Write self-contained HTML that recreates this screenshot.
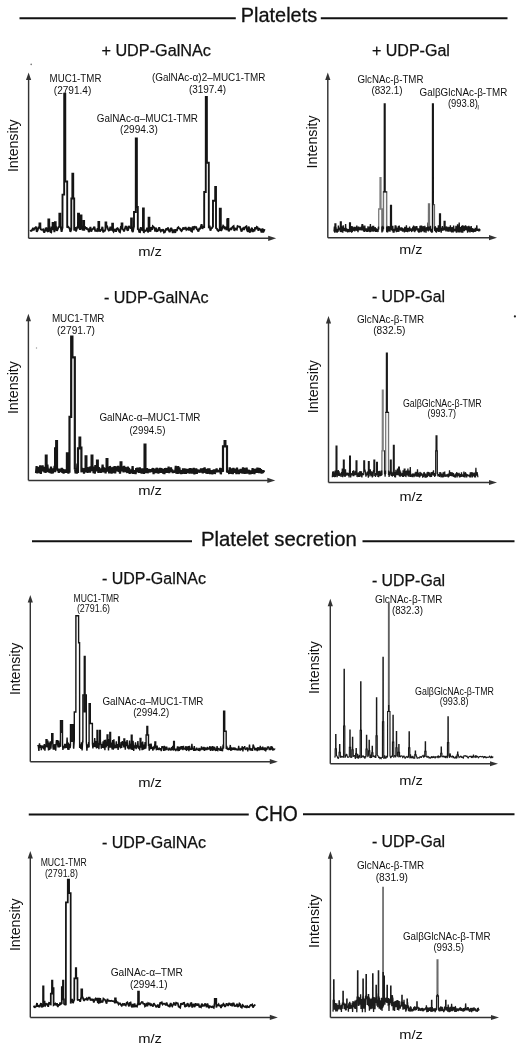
<!DOCTYPE html>
<html><head><meta charset="utf-8"><title>Figure</title>
<style>
html,body{margin:0;padding:0;background:#fff;}
body{width:520px;height:1046px;overflow:hidden;}
svg{display:block;filter:grayscale(100%);}
text{font-family:"Liberation Sans", sans-serif;}
</style></head><body>
<svg width="520" height="1046" viewBox="0 0 520 1046">
<rect width="520" height="1046" fill="#fff"/>
<text x="240.80" y="22.10" font-size="20.3" textLength="76.40" lengthAdjust="spacingAndGlyphs" fill="#111" stroke="#111" stroke-width="0.3">Platelets</text>
<line x1="19.50" y1="18.20" x2="235.80" y2="18.20" stroke="#111" stroke-width="2.1"/>
<line x1="320.80" y1="18.30" x2="507.50" y2="18.30" stroke="#111" stroke-width="2.0"/>
<text x="200.90" y="545.50" font-size="20.3" textLength="155.90" lengthAdjust="spacingAndGlyphs" fill="#111" stroke="#111" stroke-width="0.3">Platelet secretion</text>
<line x1="32.00" y1="541.20" x2="192.00" y2="541.20" stroke="#111" stroke-width="2.0"/>
<line x1="362.50" y1="541.20" x2="514.50" y2="541.20" stroke="#111" stroke-width="2.0"/>
<text x="255.00" y="820.70" font-size="21.3" textLength="42.80" lengthAdjust="spacingAndGlyphs" fill="#111" stroke="#111" stroke-width="0.3">CHO</text>
<line x1="28.75" y1="814.40" x2="248.75" y2="814.40" stroke="#111" stroke-width="2.0"/>
<line x1="303.00" y1="814.20" x2="514.50" y2="814.20" stroke="#111" stroke-width="2.0"/>
<text x="101.40" y="56.20" font-size="16.3" textLength="109.60" lengthAdjust="spacingAndGlyphs" fill="#111" stroke="#111" stroke-width="0.25">+ UDP-GalNAc</text>
<text x="371.90" y="55.80" font-size="16.3" textLength="78.00" lengthAdjust="spacingAndGlyphs" fill="#111" stroke="#111" stroke-width="0.25">+ UDP-Gal</text>
<text x="103.90" y="303.00" font-size="16.3" textLength="104.60" lengthAdjust="spacingAndGlyphs" fill="#111" stroke="#111" stroke-width="0.25">- UDP-GalNAc</text>
<text x="371.90" y="302.10" font-size="16.3" textLength="73.20" lengthAdjust="spacingAndGlyphs" fill="#111" stroke="#111" stroke-width="0.25">- UDP-Gal</text>
<text x="101.90" y="584.00" font-size="16.3" textLength="104.10" lengthAdjust="spacingAndGlyphs" fill="#111" stroke="#111" stroke-width="0.25">- UDP-GalNAc</text>
<text x="371.90" y="585.80" font-size="16.3" textLength="73.20" lengthAdjust="spacingAndGlyphs" fill="#111" stroke="#111" stroke-width="0.25">- UDP-Gal</text>
<text x="101.90" y="847.50" font-size="16.3" textLength="104.10" lengthAdjust="spacingAndGlyphs" fill="#111" stroke="#111" stroke-width="0.25">- UDP-GalNAc</text>
<text x="371.90" y="846.50" font-size="16.3" textLength="73.20" lengthAdjust="spacingAndGlyphs" fill="#111" stroke="#111" stroke-width="0.25">- UDP-Gal</text>
<text transform="translate(17.70,172.10) rotate(-90)" x="0" y="0" font-size="14.1" textLength="52.70" lengthAdjust="spacingAndGlyphs" fill="#111">Intensity</text>
<text transform="translate(317.20,168.40) rotate(-90)" x="0" y="0" font-size="14.1" textLength="53.10" lengthAdjust="spacingAndGlyphs" fill="#111">Intensity</text>
<text transform="translate(18.00,414.10) rotate(-90)" x="0" y="0" font-size="14.1" textLength="53.00" lengthAdjust="spacingAndGlyphs" fill="#111">Intensity</text>
<text transform="translate(318.00,413.20) rotate(-90)" x="0" y="0" font-size="14.1" textLength="53.20" lengthAdjust="spacingAndGlyphs" fill="#111">Intensity</text>
<text transform="translate(20.00,695.10) rotate(-90)" x="0" y="0" font-size="14.1" textLength="52.50" lengthAdjust="spacingAndGlyphs" fill="#111">Intensity</text>
<text transform="translate(318.70,694.10) rotate(-90)" x="0" y="0" font-size="14.1" textLength="53.00" lengthAdjust="spacingAndGlyphs" fill="#111">Intensity</text>
<text transform="translate(20.00,951.10) rotate(-90)" x="0" y="0" font-size="14.1" textLength="52.70" lengthAdjust="spacingAndGlyphs" fill="#111">Intensity</text>
<text transform="translate(318.70,948.00) rotate(-90)" x="0" y="0" font-size="14.1" textLength="53.40" lengthAdjust="spacingAndGlyphs" fill="#111">Intensity</text>
<text x="138.20" y="256.30" font-size="13.7" textLength="23.80" lengthAdjust="spacingAndGlyphs" fill="#111">m/z</text>
<text x="399.20" y="253.80" font-size="13.7" textLength="23.20" lengthAdjust="spacingAndGlyphs" fill="#111">m/z</text>
<text x="138.20" y="494.60" font-size="13.7" textLength="23.80" lengthAdjust="spacingAndGlyphs" fill="#111">m/z</text>
<text x="399.40" y="501.20" font-size="13.7" textLength="23.40" lengthAdjust="spacingAndGlyphs" fill="#111">m/z</text>
<text x="138.20" y="787.00" font-size="13.7" textLength="23.80" lengthAdjust="spacingAndGlyphs" fill="#111">m/z</text>
<text x="399.20" y="784.50" font-size="13.7" textLength="23.60" lengthAdjust="spacingAndGlyphs" fill="#111">m/z</text>
<text x="138.20" y="1042.50" font-size="13.7" textLength="23.80" lengthAdjust="spacingAndGlyphs" fill="#111">m/z</text>
<text x="399.20" y="1038.60" font-size="13.7" textLength="23.60" lengthAdjust="spacingAndGlyphs" fill="#111">m/z</text>
<text x="49.60" y="81.90" font-size="10.8" textLength="51.80" lengthAdjust="spacingAndGlyphs" fill="#111">MUC1-TMR</text>
<text x="53.80" y="93.80" font-size="10.8" textLength="37.50" lengthAdjust="spacingAndGlyphs" fill="#111">(2791.4)</text>
<text x="96.80" y="121.80" font-size="10.8" textLength="101.20" lengthAdjust="spacingAndGlyphs" fill="#111">GalNAc-α–MUC1-TMR</text>
<text x="120.10" y="133.20" font-size="10.8" textLength="37.70" lengthAdjust="spacingAndGlyphs" fill="#111">(2994.3)</text>
<text x="151.90" y="81.20" font-size="10.8" textLength="113.60" lengthAdjust="spacingAndGlyphs" fill="#111">(GalNAc-α)2–MUC1-TMR</text>
<text x="188.90" y="93.30" font-size="10.8" textLength="37.10" lengthAdjust="spacingAndGlyphs" fill="#111">(3197.4)</text>
<text x="357.40" y="82.50" font-size="10.8" textLength="66.10" lengthAdjust="spacingAndGlyphs" fill="#111">GlcNAc-β-TMR</text>
<text x="371.40" y="93.80" font-size="10.8" textLength="31.10" lengthAdjust="spacingAndGlyphs" fill="#111">(832.1)</text>
<text x="419.60" y="95.90" font-size="10.8" textLength="87.80" lengthAdjust="spacingAndGlyphs" fill="#111">GalβGlcNAc-β-TMR</text>
<text x="447.90" y="106.90" font-size="10.8" textLength="29.90" lengthAdjust="spacingAndGlyphs" fill="#111">(993.8)</text>
<text x="51.90" y="322.00" font-size="10.8" textLength="52.60" lengthAdjust="spacingAndGlyphs" fill="#111">MUC1-TMR</text>
<text x="56.90" y="334.30" font-size="10.8" textLength="38.10" lengthAdjust="spacingAndGlyphs" fill="#111">(2791.7)</text>
<text x="99.40" y="421.00" font-size="10.8" textLength="101.10" lengthAdjust="spacingAndGlyphs" fill="#111">GalNAc-α–MUC1-TMR</text>
<text x="129.40" y="434.30" font-size="10.8" textLength="36.10" lengthAdjust="spacingAndGlyphs" fill="#111">(2994.5)</text>
<text x="356.90" y="322.50" font-size="10.8" textLength="67.35" lengthAdjust="spacingAndGlyphs" fill="#111">GlcNAc-β-TMR</text>
<text x="373.15" y="334.30" font-size="10.8" textLength="32.35" lengthAdjust="spacingAndGlyphs" fill="#111">(832.5)</text>
<text x="402.90" y="406.60" font-size="10.8" textLength="78.80" lengthAdjust="spacingAndGlyphs" fill="#111">GalβGlcNAc-β-TMR</text>
<text x="427.40" y="417.00" font-size="10.8" textLength="28.50" lengthAdjust="spacingAndGlyphs" fill="#111">(993.7)</text>
<text x="73.60" y="601.50" font-size="10.8" textLength="45.70" lengthAdjust="spacingAndGlyphs" fill="#111">MUC1-TMR</text>
<text x="76.90" y="612.30" font-size="10.8" textLength="33.20" lengthAdjust="spacingAndGlyphs" fill="#111">(2791.6)</text>
<text x="102.40" y="704.50" font-size="10.8" textLength="101.10" lengthAdjust="spacingAndGlyphs" fill="#111">GalNAc-α–MUC1-TMR</text>
<text x="133.15" y="715.80" font-size="10.8" textLength="36.10" lengthAdjust="spacingAndGlyphs" fill="#111">(2994.2)</text>
<text x="374.90" y="602.50" font-size="10.8" textLength="67.60" lengthAdjust="spacingAndGlyphs" fill="#111">GlcNAc-β-TMR</text>
<text x="391.90" y="614.30" font-size="10.8" textLength="31.10" lengthAdjust="spacingAndGlyphs" fill="#111">(832.3)</text>
<text x="415.10" y="695.00" font-size="10.8" textLength="78.90" lengthAdjust="spacingAndGlyphs" fill="#111">GalβGlcNAc-β-TMR</text>
<text x="439.80" y="705.30" font-size="10.8" textLength="28.70" lengthAdjust="spacingAndGlyphs" fill="#111">(993.8)</text>
<text x="40.65" y="866.25" font-size="10.8" textLength="46.10" lengthAdjust="spacingAndGlyphs" fill="#111">MUC1-TMR</text>
<text x="44.90" y="877.00" font-size="10.8" textLength="33.10" lengthAdjust="spacingAndGlyphs" fill="#111">(2791.8)</text>
<text x="110.65" y="976.00" font-size="10.8" textLength="72.35" lengthAdjust="spacingAndGlyphs" fill="#111">GalNAc-α–TMR</text>
<text x="129.90" y="988.00" font-size="10.8" textLength="37.60" lengthAdjust="spacingAndGlyphs" fill="#111">(2994.1)</text>
<text x="356.90" y="868.75" font-size="10.8" textLength="67.35" lengthAdjust="spacingAndGlyphs" fill="#111">GlcNAc-β-TMR</text>
<text x="375.65" y="880.80" font-size="10.8" textLength="32.35" lengthAdjust="spacingAndGlyphs" fill="#111">(831.9)</text>
<text x="402.90" y="940.40" font-size="10.8" textLength="87.60" lengthAdjust="spacingAndGlyphs" fill="#111">GalβGlcNAc-β-TMR</text>
<text x="433.40" y="951.30" font-size="10.8" textLength="30.60" lengthAdjust="spacingAndGlyphs" fill="#111">(993.5)</text>
<line x1="478.40" y1="105.00" x2="478.20" y2="109.60" stroke="#555" stroke-width="0.8"/>
<circle cx="514.9" cy="316.4" r="1.1" fill="#222"/>
<circle cx="31.2" cy="64.4" r="0.8" fill="#777"/>
<circle cx="36.5" cy="348" r="0.7" fill="#999"/>
<line x1="28.60" y1="238.30" x2="28.60" y2="78.50" stroke="#333" stroke-width="1.45"/>
<path d="M26.00,80.00 L28.60,72.50 L31.20,80.00 Z" fill="#333"/>
<line x1="28.60" y1="238.30" x2="270.20" y2="238.30" stroke="#333" stroke-width="1.45"/>
<path d="M268.20,235.70 L276.20,238.30 L268.20,240.90 Z" fill="#333"/>
<line x1="327.80" y1="237.70" x2="327.80" y2="78.50" stroke="#333" stroke-width="1.45"/>
<path d="M325.20,80.00 L327.80,72.50 L330.40,80.00 Z" fill="#333"/>
<line x1="327.80" y1="237.70" x2="491.00" y2="237.70" stroke="#333" stroke-width="1.45"/>
<path d="M489.00,235.10 L497.00,237.70 L489.00,240.30 Z" fill="#333"/>
<line x1="28.40" y1="480.40" x2="28.40" y2="319.75" stroke="#333" stroke-width="1.45"/>
<path d="M25.80,321.25 L28.40,313.75 L31.00,321.25 Z" fill="#333"/>
<line x1="28.40" y1="480.40" x2="269.30" y2="480.40" stroke="#333" stroke-width="1.45"/>
<path d="M267.30,477.80 L275.30,480.40 L267.30,483.00 Z" fill="#333"/>
<line x1="328.50" y1="482.50" x2="328.50" y2="322.00" stroke="#333" stroke-width="1.45"/>
<path d="M325.90,323.50 L328.50,316.00 L331.10,323.50 Z" fill="#333"/>
<line x1="328.50" y1="482.50" x2="491.00" y2="482.50" stroke="#333" stroke-width="1.45"/>
<path d="M489.00,479.90 L497.00,482.50 L489.00,485.10 Z" fill="#333"/>
<line x1="30.30" y1="761.70" x2="30.30" y2="601.00" stroke="#333" stroke-width="1.45"/>
<path d="M27.70,602.50 L30.30,595.00 L32.90,602.50 Z" fill="#333"/>
<line x1="30.30" y1="761.70" x2="271.80" y2="761.70" stroke="#333" stroke-width="1.45"/>
<path d="M269.80,759.10 L277.80,761.70 L269.80,764.30 Z" fill="#333"/>
<line x1="330.30" y1="763.75" x2="330.30" y2="604.75" stroke="#333" stroke-width="1.45"/>
<path d="M327.70,606.25 L330.30,598.75 L332.90,606.25 Z" fill="#333"/>
<line x1="330.30" y1="763.75" x2="492.00" y2="763.75" stroke="#333" stroke-width="1.45"/>
<path d="M490.00,761.15 L498.00,763.75 L490.00,766.35 Z" fill="#333"/>
<line x1="30.30" y1="1017.40" x2="30.30" y2="857.00" stroke="#333" stroke-width="1.45"/>
<path d="M27.70,858.50 L30.30,851.00 L32.90,858.50 Z" fill="#333"/>
<line x1="30.30" y1="1017.40" x2="271.80" y2="1017.40" stroke="#333" stroke-width="1.45"/>
<path d="M269.80,1014.80 L277.80,1017.40 L269.80,1020.00 Z" fill="#333"/>
<line x1="330.40" y1="1017.50" x2="330.40" y2="857.25" stroke="#333" stroke-width="1.45"/>
<path d="M327.80,858.75 L330.40,851.25 L333.00,858.75 Z" fill="#333"/>
<line x1="330.40" y1="1017.50" x2="493.00" y2="1017.50" stroke="#333" stroke-width="1.45"/>
<path d="M491.00,1014.90 L499.00,1017.50 L491.00,1020.10 Z" fill="#333"/>
<polyline points="30.40,229.86 30.60,230.22 30.80,230.59 31.00,230.95 31.20,231.32 31.40,230.98 31.60,230.65 31.80,230.31 32.00,229.98 32.20,229.69 32.40,229.40 32.60,229.11 32.80,228.83 33.00,229.21 33.20,229.60 33.40,229.99 33.60,230.38 33.80,229.87 34.00,229.35 34.20,228.84 34.40,228.33 34.60,228.30 34.80,228.28 35.00,228.25 35.20,228.22 35.40,227.84 35.60,227.46 35.80,227.08 36.00,226.70 36.20,227.98 36.40,229.26 36.60,230.53 36.80,231.81 37.00,231.43 37.20,231.06 37.40,230.68 37.60,230.30 37.80,229.60 38.00,228.90 38.20,228.20 38.40,227.51 38.60,227.53 38.80,227.56 39.00,227.59 39.20,227.62 39.40,227.35 39.43,227.32 39.47,223.50 39.60,223.50 39.80,223.50 40.00,223.50 40.20,223.50 40.33,223.50 40.37,227.87 40.40,227.98 40.60,228.68 40.80,229.38 41.00,229.48 41.20,229.57 41.40,229.67 41.60,229.76 41.80,229.73 42.00,229.70 42.20,229.67 42.40,229.64 42.60,229.57 42.80,229.51 43.00,229.44 43.20,229.37 43.40,230.15 43.60,230.92 43.80,231.70 44.00,232.47 44.20,232.25 44.40,232.03 44.60,231.81 44.80,231.59 45.00,230.80 45.20,230.01 45.40,229.22 45.60,228.43 45.80,228.39 46.00,228.34 46.20,228.30 46.40,228.25 46.60,228.96 46.80,229.67 47.00,230.38 47.20,231.09 47.40,231.20 47.60,231.32 47.80,231.43 48.00,231.54 48.20,231.70 48.33,231.80 48.37,219.50 48.40,219.50 48.60,219.50 48.80,219.50 49.00,219.50 49.20,219.50 49.23,219.50 49.27,228.79 49.40,227.85 49.60,226.40 49.80,227.76 50.00,229.12 50.20,230.47 50.40,231.83 50.60,231.93 50.80,232.03 51.00,232.12 51.20,232.22 51.40,230.85 51.60,229.48 51.80,228.11 52.00,226.75 52.20,227.80 52.40,228.85 52.58,229.79 52.60,222.90 52.62,222.90 52.80,222.90 53.00,222.90 53.20,222.90 53.38,222.90 53.40,222.90 53.42,227.71 53.60,226.77 53.80,228.08 54.00,229.38 54.20,230.69 54.40,232.00 54.60,230.72 54.80,229.45 54.88,228.94 54.92,222.30 55.00,222.30 55.20,222.30 55.40,222.30 55.60,222.30 55.68,222.30 55.72,226.81 55.80,226.79 56.00,226.76 56.20,227.80 56.40,228.83 56.60,229.87 56.80,230.91 57.00,230.54 57.20,230.18 57.40,229.81 57.60,229.45 57.80,228.89 58.00,228.33 58.20,227.77 58.40,227.21 58.60,227.11 58.80,227.01 59.00,226.91 59.20,226.82 59.33,226.80 59.37,213.80 59.40,213.80 59.60,213.80 59.80,213.80 60.00,213.80 60.20,213.80 60.23,213.80 60.27,226.90 60.40,226.99 60.60,227.14 60.80,227.28 61.00,228.42 61.20,229.56 61.40,230.70 61.60,231.84 61.80,230.84 62.00,229.84 62.20,228.84 62.40,227.84 62.48,227.79 62.52,194.60 62.60,194.60 62.80,194.60 63.00,194.60 63.20,194.60 63.40,194.60 63.60,194.60 63.80,194.60 64.00,194.60 64.18,194.60 64.20,93.80 64.22,93.80 64.40,93.80 64.60,93.80 64.80,93.80 65.00,93.80 65.20,93.80 65.28,93.80 65.32,181.50 65.40,181.50 65.60,181.50 65.80,181.50 66.00,181.50 66.20,181.50 66.40,181.50 66.60,181.50 66.80,181.50 67.00,181.50 67.18,181.50 67.20,181.50 67.22,227.80 67.40,227.52 67.60,227.22 67.80,226.91 68.00,226.60 68.20,226.83 68.40,227.06 68.60,227.29 68.80,227.52 69.00,227.72 69.20,227.91 69.40,228.11 69.60,228.30 69.80,229.18 70.00,230.07 70.20,230.95 70.40,231.83 70.60,231.26 70.80,230.68 71.00,230.11 71.20,229.53 71.28,229.30 71.32,198.50 71.40,198.50 71.60,198.50 71.80,198.50 72.00,198.50 72.20,198.50 72.33,198.50 72.37,173.80 72.40,173.80 72.60,173.80 72.80,173.80 73.00,173.80 73.20,173.80 73.23,173.80 73.27,198.50 73.40,198.50 73.60,198.50 73.80,198.50 74.00,198.50 74.18,198.50 74.20,198.50 74.22,229.88 74.40,230.54 74.60,229.73 74.80,228.92 75.00,228.11 75.20,227.29 75.40,228.32 75.60,229.35 75.80,230.38 76.00,231.41 76.20,230.72 76.40,230.03 76.60,229.34 76.80,228.65 77.00,228.08 77.20,227.51 77.40,226.94 77.60,226.36 77.80,226.67 77.98,226.94 78.00,213.80 78.02,213.80 78.20,213.80 78.40,213.80 78.60,213.80 78.80,213.80 78.98,213.80 79.00,213.80 79.02,227.66 79.20,227.69 79.40,228.20 79.60,228.71 79.80,229.22 80.00,229.73 80.20,229.10 80.40,228.47 80.48,228.22 80.52,215.40 80.60,215.40 80.80,215.40 81.00,215.40 81.20,215.40 81.40,215.40 81.48,215.40 81.52,226.64 81.60,226.57 81.80,227.31 82.00,228.05 82.20,228.79 82.40,229.52 82.60,229.61 82.80,229.69 83.00,229.78 83.20,229.86 83.40,230.32 83.43,230.38 83.47,221.00 83.60,221.00 83.80,221.00 84.00,221.00 84.13,221.00 84.17,230.54 84.20,230.33 84.40,228.98 84.60,227.64 84.80,226.29 85.00,226.93 85.20,227.58 85.40,228.22 85.60,228.87 85.80,228.46 86.00,228.06 86.20,227.66 86.40,227.26 86.60,227.85 86.80,228.45 87.00,229.04 87.20,229.64 87.40,229.32 87.60,229.01 87.80,228.70 88.00,228.38 88.20,229.31 88.40,230.24 88.60,231.17 88.80,232.10 89.00,231.67 89.20,231.23 89.40,230.80 89.60,230.37 89.80,229.53 90.00,228.68 90.20,227.84 90.40,227.00 90.60,228.17 90.80,229.35 91.00,230.52 91.20,231.70 91.40,231.14 91.60,230.58 91.80,230.03 92.00,229.47 92.20,229.39 92.40,229.31 92.60,229.22 92.80,229.14 93.00,228.90 93.20,228.65 93.40,228.41 93.60,228.17 93.80,227.80 94.00,227.44 94.20,227.07 94.40,226.71 94.60,227.70 94.80,228.70 95.00,229.69 95.20,230.69 95.40,230.69 95.60,230.69 95.80,230.69 96.00,230.69 96.20,230.78 96.40,230.86 96.60,230.95 96.80,231.04 97.00,230.37 97.20,229.71 97.40,229.05 97.60,228.39 97.80,229.22 98.00,230.04 98.20,230.87 98.38,231.61 98.40,222.00 98.42,222.00 98.60,222.00 98.80,222.00 99.00,222.00 99.18,222.00 99.20,222.00 99.22,228.86 99.40,229.47 99.60,230.14 99.80,230.81 100.00,231.48 100.20,231.12 100.40,230.77 100.60,230.41 100.80,230.05 101.00,229.99 101.20,229.93 101.40,229.87 101.60,229.80 101.80,229.05 102.00,228.30 102.20,227.54 102.40,226.79 102.60,228.16 102.80,229.53 103.00,230.90 103.20,232.27 103.40,231.88 103.60,231.48 103.80,231.08 104.00,230.69 104.20,230.70 104.40,230.71 104.60,230.72 104.80,230.73 105.00,230.29 105.20,229.85 105.40,229.41 105.48,229.23 105.52,222.50 105.60,222.50 105.80,222.50 106.00,222.50 106.20,222.50 106.28,222.50 106.32,227.04 106.40,226.83 106.60,226.75 106.80,226.67 107.00,226.59 107.20,226.51 107.40,227.19 107.60,227.86 107.80,228.54 108.00,229.22 108.20,229.54 108.40,229.87 108.60,230.20 108.80,230.53 109.00,230.40 109.20,230.28 109.40,230.15 109.60,230.03 109.80,229.19 110.00,228.35 110.20,227.51 110.40,226.67 110.60,227.61 110.80,228.54 111.00,229.48 111.20,230.41 111.40,229.65 111.60,228.89 111.80,228.13 112.00,227.37 112.18,228.03 112.20,223.80 112.22,223.80 112.40,223.80 112.60,223.80 112.80,223.80 112.98,223.80 113.00,223.80 113.02,230.69 113.20,231.01 113.40,231.36 113.60,231.70 113.80,231.37 114.00,231.03 114.20,230.69 114.40,230.35 114.60,230.00 114.80,229.65 115.00,229.30 115.20,228.95 115.40,229.67 115.60,230.40 115.80,231.12 116.00,231.85 116.20,231.06 116.40,230.26 116.60,229.47 116.80,228.67 117.00,228.57 117.20,228.47 117.40,228.37 117.60,228.27 117.80,228.54 118.00,228.81 118.20,229.08 118.40,229.35 118.60,229.88 118.80,230.41 119.00,230.94 119.20,231.47 119.40,231.62 119.60,231.77 119.80,231.93 120.00,232.08 120.20,230.91 120.40,229.74 120.60,228.57 120.80,227.40 121.00,227.56 121.20,227.72 121.40,227.88 121.58,228.02 121.60,223.50 121.62,223.50 121.80,223.50 122.00,223.50 122.20,223.50 122.38,223.50 122.40,223.50 122.42,228.89 122.60,228.99 122.80,229.11 123.00,229.24 123.20,229.36 123.40,229.87 123.60,230.39 123.80,230.91 124.00,231.43 124.20,230.85 124.40,230.27 124.60,229.69 124.80,229.11 125.00,228.48 125.20,227.85 125.40,227.22 125.60,226.59 125.80,226.61 126.00,226.62 126.20,226.64 126.40,226.65 126.60,227.45 126.80,228.24 127.00,229.04 127.20,229.83 127.40,230.03 127.60,230.22 127.80,230.42 128.00,230.62 128.20,229.42 128.40,228.22 128.60,227.02 128.80,225.83 129.00,226.33 129.20,226.83 129.40,227.34 129.60,227.84 129.80,227.56 130.00,227.27 130.20,226.99 130.40,226.70 130.60,227.30 130.80,227.90 131.00,228.50 131.08,228.74 131.12,218.50 131.20,218.50 131.40,218.50 131.60,218.50 131.80,218.50 131.88,218.50 131.92,230.23 132.00,230.36 132.20,230.81 132.40,231.27 132.60,231.73 132.80,232.18 133.00,231.04 133.20,229.91 133.40,228.77 133.60,227.63 133.80,227.13 133.98,226.68 134.00,212.00 134.02,212.00 134.20,212.00 134.40,212.00 134.60,212.00 134.80,212.00 135.00,212.00 135.20,212.00 135.40,212.00 135.60,212.00 135.78,212.00 135.80,138.50 135.82,138.50 136.00,138.50 136.20,138.50 136.40,138.50 136.60,138.50 136.80,138.50 136.88,138.50 136.92,207.00 137.00,207.00 137.20,207.00 137.40,207.00 137.60,207.00 137.78,207.00 137.80,207.00 137.82,229.77 138.00,229.48 138.20,229.15 138.40,228.81 138.60,229.58 138.80,230.35 139.00,231.12 139.20,231.89 139.40,231.93 139.60,231.97 139.80,232.02 140.00,232.06 140.20,230.85 140.40,229.65 140.60,228.45 140.80,227.24 141.00,227.99 141.20,228.73 141.40,229.48 141.60,230.22 141.80,229.85 142.00,229.48 142.20,229.10 142.40,228.73 142.60,229.48 142.80,230.24 142.98,230.92 143.00,208.50 143.02,208.50 143.20,208.50 143.40,208.50 143.60,208.50 143.78,208.50 143.80,208.50 143.82,232.05 144.00,232.14 144.20,231.70 144.40,231.26 144.60,230.83 144.80,230.39 145.00,230.49 145.20,230.60 145.40,230.71 145.60,230.81 145.80,230.69 146.00,230.57 146.20,230.45 146.40,230.34 146.60,229.69 146.80,229.05 147.00,228.41 147.20,227.77 147.40,228.92 147.60,230.07 147.80,231.22 148.00,232.37 148.20,231.71 148.40,231.05 148.58,230.45 148.60,217.70 148.62,217.70 148.80,217.70 149.00,217.70 149.20,217.70 149.38,217.70 149.40,217.70 149.42,228.71 149.60,228.42 149.80,229.22 150.00,230.03 150.20,230.84 150.40,231.65 150.60,230.50 150.80,229.35 151.00,228.20 151.20,227.04 151.40,227.75 151.60,228.46 151.80,229.17 152.00,229.88 152.20,228.99 152.40,228.09 152.60,227.20 152.80,226.30 153.00,226.48 153.20,226.66 153.40,226.85 153.60,227.03 153.80,227.20 154.00,227.37 154.20,227.54 154.40,227.71 154.60,228.64 154.80,229.57 155.00,230.50 155.20,231.44 155.40,230.48 155.60,229.53 155.80,228.58 156.00,227.63 156.20,228.50 156.40,229.37 156.60,230.24 156.80,231.11 157.00,231.07 157.20,231.03 157.40,230.98 157.60,230.94 157.80,230.65 158.00,230.37 158.20,230.08 158.40,229.79 158.60,229.19 158.80,228.59 159.00,227.99 159.20,227.38 159.40,228.05 159.60,228.72 159.80,229.39 160.00,230.06 160.20,230.37 160.40,230.68 160.60,230.99 160.80,231.31 161.00,231.00 161.20,230.70 161.40,230.40 161.60,230.10 161.80,230.16 162.00,230.23 162.20,230.29 162.40,230.36 162.60,230.10 162.80,229.84 163.00,229.58 163.20,229.32 163.40,230.10 163.60,230.89 163.80,231.68 164.00,232.46 164.20,232.40 164.40,232.33 164.60,232.26 164.80,232.20 165.00,231.71 165.20,231.23 165.40,230.75 165.60,230.27 165.80,229.79 166.00,229.32 166.20,228.84 166.40,228.36 166.60,228.82 166.80,229.28 167.00,229.75 167.20,230.21 167.40,229.50 167.60,228.80 167.80,228.09 168.00,227.39 168.20,228.13 168.40,228.87 168.60,229.61 168.80,230.35 169.00,230.78 169.20,231.22 169.40,231.65 169.60,232.09 169.80,231.63 170.00,231.18 170.20,230.72 170.40,230.26 170.60,229.63 170.80,229.00 171.00,228.37 171.20,227.74 171.40,228.27 171.60,228.80 171.80,229.33 172.00,229.86 172.20,230.64 172.40,231.41 172.60,232.18 172.80,232.95 173.00,232.29 173.20,231.62 173.40,230.95 173.60,230.28 173.80,230.23 174.00,230.18 174.20,230.13 174.40,230.08 174.60,230.79 174.80,231.49 175.00,232.20 175.20,232.88 175.40,231.97 175.60,231.07 175.80,230.17 176.00,229.27 176.20,229.69 176.40,230.12 176.60,230.54 176.80,230.97 177.00,230.21 177.20,229.45 177.40,228.69 177.60,227.93 177.80,227.74 178.00,227.56 178.20,227.37 178.40,227.18 178.60,227.46 178.80,227.74 179.00,228.02 179.20,228.30 179.40,228.42 179.60,228.53 179.80,228.65 180.00,228.77 180.20,229.19 180.40,229.61 180.60,230.03 180.80,230.45 181.00,230.59 181.20,230.73 181.40,230.87 181.60,231.01 181.80,230.65 182.00,230.29 182.20,229.93 182.40,229.58 182.60,229.08 182.80,228.58 183.00,228.09 183.20,227.59 183.40,227.92 183.60,228.26 183.80,228.59 184.00,228.92 184.20,228.86 184.40,228.80 184.60,228.74 184.80,228.67 185.00,228.27 185.20,227.86 185.40,227.45 185.60,227.05 185.80,227.73 186.00,228.41 186.20,229.09 186.40,229.77 186.60,229.59 186.80,229.41 187.00,229.23 187.20,229.05 187.40,229.15 187.60,229.24 187.80,229.34 188.00,229.44 188.20,228.84 188.40,228.25 188.60,227.65 188.80,227.06 189.00,227.90 189.20,228.74 189.40,229.58 189.60,230.42 189.80,229.65 190.00,228.88 190.20,228.14 190.40,227.41 190.60,228.32 190.80,229.24 191.00,230.16 191.20,231.07 191.40,231.19 191.60,231.31 191.80,231.43 192.00,231.55 192.20,230.26 192.40,228.97 192.60,227.68 192.80,226.39 193.00,227.28 193.20,228.18 193.40,229.07 193.60,229.97 193.80,229.03 194.00,228.09 194.20,227.15 194.40,226.21 194.60,226.71 194.80,227.20 195.00,227.69 195.20,228.19 195.40,227.75 195.60,227.31 195.80,226.87 196.00,226.44 196.20,227.08 196.40,227.72 196.60,228.37 196.80,229.01 197.00,229.21 197.20,229.42 197.40,229.62 197.60,229.82 197.80,230.26 198.00,230.69 198.20,231.13 198.40,231.56 198.60,230.87 198.80,230.19 199.00,229.50 199.20,228.81 199.40,228.81 199.60,228.81 199.80,228.82 200.00,228.82 200.20,228.34 200.40,227.87 200.60,227.39 200.80,226.92 201.00,226.24 201.20,225.56 201.40,224.88 201.60,224.20 201.80,225.37 202.00,226.53 202.20,227.69 202.40,228.85 202.60,228.29 202.80,227.74 203.00,227.18 203.20,226.63 203.40,226.71 203.60,226.79 203.80,226.87 204.00,226.96 204.18,228.02 204.20,192.00 204.22,192.00 204.40,192.00 204.60,192.00 204.80,192.00 205.00,192.00 205.20,192.00 205.40,192.00 205.60,192.00 205.78,192.00 205.80,97.00 205.82,97.00 206.00,97.00 206.20,97.00 206.40,97.00 206.60,97.00 206.80,97.00 206.88,97.00 206.92,162.70 207.00,162.70 207.20,162.70 207.40,162.70 207.60,162.70 207.80,162.70 208.00,162.70 208.20,162.70 208.40,162.70 208.60,162.70 208.78,162.70 208.80,162.70 208.82,228.17 209.00,227.61 209.20,226.98 209.40,226.35 209.60,225.72 209.80,226.96 210.00,228.21 210.20,229.45 210.40,230.69 210.60,230.10 210.80,229.51 211.00,228.93 211.20,228.34 211.40,228.26 211.60,228.18 211.80,228.11 212.00,228.03 212.20,227.67 212.40,227.30 212.60,226.94 212.80,226.58 212.98,226.37 213.00,200.80 213.02,200.80 213.20,200.80 213.40,200.80 213.60,200.80 213.80,200.80 214.00,200.80 214.20,200.80 214.40,200.80 214.60,200.80 214.80,200.80 215.00,200.80 215.18,200.80 215.20,186.90 215.22,186.90 215.40,186.90 215.60,186.90 215.80,186.90 215.98,186.90 216.00,186.90 216.02,227.98 216.20,228.11 216.40,228.25 216.60,228.40 216.80,228.55 217.00,228.99 217.20,229.44 217.40,229.89 217.60,230.34 217.80,230.49 218.00,230.65 218.20,230.80 218.40,230.96 218.60,230.76 218.80,230.55 219.00,230.35 219.20,230.15 219.40,229.59 219.60,229.02 219.78,228.52 219.80,208.60 219.82,208.60 220.00,208.60 220.20,208.60 220.40,208.60 220.60,208.60 220.78,208.60 220.80,208.60 220.82,230.72 221.00,230.56 221.20,230.39 221.40,230.22 221.60,230.04 221.80,229.50 222.00,228.95 222.20,228.41 222.40,227.86 222.60,227.36 222.80,226.85 223.00,226.34 223.20,225.84 223.40,226.08 223.60,226.31 223.80,226.55 224.00,226.79 224.20,227.40 224.40,228.00 224.60,228.61 224.80,229.22 225.00,228.61 225.20,227.99 225.40,227.38 225.60,226.77 225.80,227.41 226.00,228.06 226.20,228.71 226.40,229.36 226.60,229.34 226.80,229.33 227.00,229.32 227.18,229.31 227.20,219.80 227.22,219.80 227.40,219.80 227.58,219.80 227.60,219.00 227.62,219.00 227.80,219.00 227.98,219.00 228.00,219.00 228.02,219.00 228.20,219.00 228.38,219.00 228.40,219.00 228.42,230.00 228.60,230.62 228.80,231.32 229.00,230.87 229.20,230.42 229.40,229.97 229.60,229.51 229.80,229.31 230.00,229.11 230.20,228.93 230.40,228.74 230.60,229.00 230.80,229.27 231.00,229.53 231.20,229.79 231.40,229.30 231.60,228.80 231.80,228.30 232.00,227.81 232.20,227.51 232.40,227.21 232.60,226.91 232.80,226.61 233.00,226.47 233.20,226.34 233.40,226.20 233.60,226.07 233.80,227.29 234.00,228.51 234.20,229.73 234.40,230.95 234.60,230.36 234.80,229.78 235.00,229.19 235.20,228.60 235.40,228.70 235.60,228.80 235.80,228.90 236.00,229.00 236.20,229.12 236.40,229.23 236.60,229.35 236.80,229.46 237.00,228.63 237.20,227.80 237.40,226.96 237.60,226.13 237.80,226.23 238.00,226.34 238.20,226.44 238.40,226.55 238.60,226.59 238.80,226.63 239.00,226.67 239.20,226.71 239.40,226.74 239.60,226.76 239.80,226.78 240.00,226.81 240.20,227.48 240.40,228.15 240.60,228.82 240.80,229.50 241.00,230.01 241.20,230.52 241.40,231.03 241.60,231.54 241.80,230.92 242.00,230.31 242.20,229.69 242.40,229.07 242.60,228.84 242.80,228.61 243.00,228.37 243.20,228.14 243.40,228.59 243.60,229.03 243.80,229.47 244.00,229.92 244.20,229.37 244.40,228.82 244.60,228.28 244.80,227.73 245.00,227.51 245.20,227.30 245.40,227.08 245.60,226.86 245.80,226.74 246.00,226.61 246.20,226.49 246.40,226.36 246.60,227.44 246.80,228.52 247.00,229.60 247.20,230.67 247.40,230.90 247.60,231.12 247.80,231.35 248.00,231.57 248.20,230.31 248.40,229.05 248.60,227.79 248.80,226.52 249.00,227.88 249.20,229.23 249.40,230.58 249.60,231.93 249.80,231.88 250.00,231.83 250.20,231.78 250.40,231.74 250.60,231.10 250.80,230.47 251.00,229.84 251.20,229.21 251.40,228.87 251.60,228.53 251.80,228.18 252.00,227.84 252.20,228.89 252.40,229.94 252.60,230.99 252.80,232.04 253.00,231.35 253.20,230.66 253.40,229.96 253.60,229.27 253.80,229.80 254.00,230.33 254.20,230.87 254.40,231.40 254.60,230.36 254.80,229.31 255.00,228.27 255.20,227.23 255.40,227.75 255.60,228.27 255.80,228.79 256.00,229.31 256.20,228.72 256.40,228.12 256.60,227.52 256.80,226.93 257.00,227.05 257.20,227.17 257.40,227.28 257.60,227.40 257.80,228.23 258.00,229.05 258.20,229.88 258.40,230.70 258.60,230.10 258.80,229.51 259.00,228.91 259.20,228.31 259.40,228.55 259.60,228.80 259.80,229.05 260.00,229.29 260.20,229.47 260.40,229.64 260.60,229.82 260.80,230.00 261.00,230.64 261.20,231.28 261.40,231.93 261.60,232.57 261.80,231.51 262.00,230.45 262.20,229.38 262.40,228.32 262.60,229.31 262.80,230.30 263.00,231.30 263.20,232.29 263.40,231.90 263.60,231.50 263.80,231.11 264.00,230.72 264.20,230.20 264.40,229.68 264.60,229.16" fill="none" stroke="#141414" stroke-width="1.9" stroke-linejoin="miter" stroke-miterlimit="2"/>
<polyline points="334.00,231.54 334.20,229.07 334.40,226.59 334.60,229.68 334.80,232.77 334.98,230.73 335.00,223.80 335.02,223.80 335.20,223.80 335.40,223.80 335.60,223.80 335.78,223.80 335.80,229.00 335.82,228.81 336.00,227.05 336.20,229.73 336.40,232.41 336.60,230.56 336.80,228.70 337.00,230.67 337.20,232.64 337.40,230.86 337.60,229.07 337.80,230.49 338.00,231.90 338.20,228.76 338.40,225.62 338.60,227.99 338.80,230.37 339.00,229.68 339.20,229.00 339.40,229.64 339.60,230.28 339.80,228.95 340.00,227.61 340.20,229.79 340.38,231.75 340.40,231.97 340.42,221.80 340.60,221.80 340.80,221.80 341.00,221.80 341.18,221.80 341.20,221.80 341.22,232.33 341.40,229.32 341.60,225.97 341.80,228.83 342.00,231.69 342.20,229.54 342.40,227.39 342.60,230.05 342.80,232.72 343.00,229.03 343.20,225.34 343.40,228.19 343.60,231.03 343.80,229.45 344.00,227.86 344.20,229.43 344.40,231.01 344.60,229.70 344.80,228.40 345.00,229.92 345.20,231.44 345.40,227.72 345.60,224.00 345.80,227.83 346.00,231.66 346.20,230.05 346.40,228.45 346.60,230.11 346.80,231.77 347.00,230.36 347.20,228.95 347.40,230.64 347.60,232.33 347.80,230.78 348.00,229.23 348.20,230.56 348.40,231.88 348.60,230.52 348.80,229.16 349.00,230.70 349.20,232.24 349.40,229.82 349.58,227.63 349.60,223.00 349.62,223.00 349.80,223.00 350.00,223.00 350.20,223.00 350.38,223.00 350.40,223.00 350.42,228.84 350.60,230.26 350.80,231.83 351.00,229.04 351.20,226.25 351.40,229.52 351.60,232.78 351.80,229.47 352.00,226.16 352.20,229.08 352.40,232.00 352.60,229.39 352.80,226.79 353.00,228.47 353.20,230.14 353.40,229.71 353.60,229.28 353.80,229.99 354.00,230.71 354.20,228.71 354.40,226.71 354.60,229.05 354.80,231.40 355.00,229.08 355.20,226.76 355.40,228.52 355.60,230.28 355.80,229.49 356.00,228.70 356.20,229.59 356.40,230.48 356.60,227.96 356.80,225.43 357.00,228.19 357.20,230.95 357.40,229.72 357.60,228.49 357.80,230.30 358.00,232.12 358.20,229.30 358.40,226.48 358.60,228.46 358.80,230.44 359.00,229.41 359.20,228.37 359.40,229.28 359.60,230.19 359.80,228.48 360.00,226.77 360.20,228.50 360.40,230.24 360.60,228.94 360.80,227.63 361.00,229.02 361.20,230.40 361.40,228.68 361.60,226.95 361.80,229.39 361.88,230.36 361.92,225.00 362.00,225.00 362.20,225.00 362.40,224.18 362.60,225.00 362.68,225.00 362.72,229.15 362.80,230.40 363.00,228.01 363.20,225.63 363.40,228.50 363.60,231.38 363.80,229.59 364.00,227.79 364.20,229.83 364.40,231.86 364.60,228.67 364.80,225.48 365.00,228.42 365.20,231.36 365.40,230.11 365.60,228.86 365.80,229.90 366.00,230.94 366.20,229.64 366.40,228.35 366.60,230.15 366.80,231.94 367.00,230.36 367.20,228.79 367.40,230.38 367.60,231.97 367.80,229.09 368.00,226.20 368.20,228.26 368.40,230.31 368.60,229.78 368.80,229.26 369.00,230.44 369.20,231.62 369.40,229.11 369.60,226.59 369.80,229.38 370.00,232.17 370.20,228.08 370.40,223.99 370.60,228.02 370.80,232.06 371.00,229.81 371.20,227.57 371.40,228.96 371.60,230.36 371.80,228.41 372.00,226.46 372.20,229.01 372.40,231.56 372.60,228.71 372.80,225.86 373.00,228.72 373.20,231.58 373.40,228.74 373.60,225.90 373.80,228.64 374.00,231.37 374.20,229.55 374.40,227.73 374.60,229.38 374.80,231.04 375.00,229.05 375.20,227.06 375.40,229.47 375.60,231.87 375.80,229.95 376.00,228.03 376.20,229.94 376.40,231.84 376.60,230.33 376.80,228.81 377.00,230.08 377.20,231.35 377.40,230.27 377.60,229.19 377.80,230.61 378.00,232.04 378.20,229.46 378.40,226.88 378.60,228.68 378.68,229.40 378.72,209.00 378.80,209.00 379.00,209.00 379.20,209.00 379.40,209.00 379.60,209.00 379.80,209.00 380.00,209.00 380.03,209.00 380.07,177.70 380.20,177.70 380.40,177.70 380.60,177.70 380.80,177.70 380.93,177.70 380.97,209.00 381.00,209.00 381.20,209.00 381.40,209.00 381.60,209.00 381.78,209.00 381.80,209.00 381.82,230.26 382.00,232.35 382.20,230.33 382.40,228.32 382.60,229.86 382.80,231.41 383.00,228.65 383.20,225.89 383.40,228.25 383.48,229.20 383.52,192.00 383.60,192.00 383.80,192.00 384.00,192.00 384.20,192.00 384.28,192.00 384.32,104.00 384.40,104.00 384.60,104.00 384.80,104.00 385.00,104.00 385.08,104.00 385.12,192.00 385.20,192.00 385.40,192.00 385.60,192.00 385.80,192.00 386.00,192.00 386.20,192.00 386.40,192.00 386.58,192.00 386.60,192.00 386.62,230.43 386.80,232.31 387.00,229.04 387.20,225.78 387.40,229.15 387.60,232.53 387.80,229.83 388.00,227.14 388.20,229.27 388.40,231.40 388.60,228.71 388.80,226.03 389.00,228.57 389.20,231.11 389.40,228.92 389.60,226.73 389.80,229.21 390.00,231.70 390.20,229.04 390.40,226.39 390.53,227.67 390.57,205.40 390.60,205.40 390.80,205.40 391.00,205.40 391.20,205.40 391.40,205.40 391.43,205.40 391.47,228.81 391.60,230.26 391.80,228.93 392.00,227.60 392.20,229.39 392.40,231.18 392.60,228.53 392.80,225.87 393.00,229.25 393.20,232.63 393.40,230.83 393.60,229.03 393.80,230.90 394.00,232.78 394.20,230.84 394.40,228.91 394.60,230.03 394.80,231.16 395.00,228.26 395.20,225.37 395.40,227.36 395.60,229.36 395.80,227.44 396.00,225.51 396.20,228.88 396.40,232.25 396.60,229.93 396.80,227.61 397.00,229.78 397.20,231.96 397.40,230.49 397.60,229.02 397.80,229.64 398.00,230.27 398.20,228.22 398.40,226.18 398.60,229.01 398.80,231.84 399.00,228.68 399.20,225.52 399.40,227.81 399.60,230.11 399.80,228.73 400.00,227.36 400.20,228.98 400.40,230.60 400.60,229.28 400.80,227.96 401.00,229.23 401.20,230.51 401.40,228.93 401.60,227.35 401.80,229.25 402.00,231.14 402.20,229.50 402.40,227.87 402.60,229.82 402.80,231.77 403.00,230.31 403.20,228.85 403.40,229.56 403.60,230.27 403.80,229.30 404.00,228.33 404.20,230.43 404.40,232.53 404.60,229.63 404.80,226.74 405.00,229.04 405.20,231.34 405.40,229.15 405.60,226.97 405.80,229.47 406.00,231.98 406.20,228.59 406.40,225.21 406.60,228.34 406.80,231.46 407.00,230.06 407.20,228.66 407.40,230.46 407.60,232.25 407.80,230.05 408.00,227.85 408.20,229.08 408.40,230.31 408.60,229.15 408.80,227.99 409.00,229.87 409.20,231.74 409.40,229.21 409.60,226.67 409.80,228.84 410.00,231.01 410.20,229.67 410.40,228.33 410.60,229.25 410.80,230.17 411.00,229.42 411.20,228.66 411.40,230.36 411.60,232.05 411.80,230.23 412.00,228.41 412.20,229.75 412.40,231.10 412.60,229.01 412.80,226.91 413.00,228.58 413.20,230.25 413.40,227.86 413.60,225.46 413.80,228.51 414.00,231.56 414.20,228.98 414.40,226.39 414.60,229.28 414.80,232.16 415.00,229.25 415.20,226.34 415.40,228.69 415.60,231.04 415.80,228.72 416.00,226.39 416.20,227.41 416.40,228.42 416.60,227.25 416.80,226.08 417.00,228.15 417.20,230.23 417.40,229.49 417.60,228.75 417.80,230.21 418.00,231.68 418.20,229.99 418.40,228.30 418.60,230.48 418.80,232.66 419.00,230.78 419.20,228.89 419.40,230.63 419.60,232.38 419.80,229.14 420.00,225.90 420.20,228.70 420.40,231.50 420.60,228.49 420.80,225.48 421.00,228.84 421.20,232.19 421.40,228.89 421.60,225.58 421.80,228.49 422.00,231.39 422.20,229.99 422.40,228.59 422.60,229.68 422.80,230.76 423.00,228.42 423.20,226.07 423.40,228.73 423.60,231.38 423.80,230.15 424.00,228.93 424.20,230.62 424.40,232.31 424.60,229.09 424.80,225.87 425.00,227.77 425.20,229.66 425.40,228.77 425.60,227.88 425.80,230.24 426.00,232.59 426.20,229.90 426.40,227.20 426.60,228.88 426.80,230.56 427.00,228.82 427.20,227.08 427.40,228.81 427.60,230.55 427.80,226.49 428.00,222.43 428.20,226.91 428.40,231.40 428.53,229.40 428.57,203.80 428.60,203.80 428.80,203.80 429.00,203.80 429.20,203.80 429.40,203.80 429.43,203.80 429.47,228.03 429.60,226.26 429.80,228.50 430.00,230.73 430.20,228.24 430.40,225.75 430.60,228.79 430.80,231.83 431.00,230.44 431.20,229.04 431.40,230.86 431.60,232.69 431.80,230.74 432.00,228.79 432.20,230.62 432.40,232.44 432.48,231.39 432.52,104.00 432.60,104.00 432.80,104.00 433.00,104.00 433.20,104.00 433.28,104.00 433.32,204.60 433.40,204.60 433.60,204.60 433.80,204.60 434.00,204.60 434.20,204.60 434.38,204.60 434.40,204.60 434.42,228.34 434.60,229.57 434.80,230.94 435.00,228.44 435.20,225.94 435.40,228.99 435.60,232.04 435.80,229.80 436.00,227.57 436.20,230.16 436.40,232.74 436.60,230.31 436.80,227.88 437.00,229.69 437.20,231.50 437.40,229.76 437.60,228.02 437.80,229.69 438.00,231.37 438.20,228.31 438.40,225.25 438.60,228.63 438.80,232.01 439.00,230.03 439.20,228.06 439.40,230.35 439.53,231.84 439.57,213.80 439.60,213.80 439.80,213.80 440.00,213.80 440.20,213.80 440.40,213.80 440.43,213.80 440.47,230.56 440.60,229.90 440.80,228.87 441.00,230.75 441.20,232.62 441.40,230.10 441.60,227.58 441.80,229.29 442.00,230.99 442.20,228.56 442.40,226.12 442.60,228.25 442.80,230.38 443.00,229.77 443.20,229.16 443.40,229.81 443.60,230.46 443.80,228.91 444.00,227.37 444.13,228.95 444.17,221.50 444.20,221.50 444.40,221.50 444.60,221.50 444.80,221.50 445.00,221.50 445.03,221.50 445.07,229.95 445.20,230.42 445.40,228.82 445.60,227.23 445.80,229.39 446.00,231.56 446.20,228.99 446.40,226.43 446.60,228.49 446.80,230.55 447.00,228.73 447.20,226.91 447.40,229.23 447.60,231.55 447.80,230.14 448.00,228.74 448.20,230.22 448.40,231.71 448.60,229.24 448.80,226.77 449.00,228.47 449.20,230.17 449.40,228.70 449.60,227.22 449.80,229.49 450.00,231.76 450.20,228.56 450.40,225.36 450.60,228.21 450.80,231.07 451.00,229.92 451.20,228.78 451.40,230.57 451.60,232.36 451.80,229.64 452.00,226.93 452.20,229.55 452.40,232.18 452.60,229.77 452.80,227.35 453.00,229.87 453.20,232.38 453.40,228.92 453.60,225.46 453.80,228.21 454.00,230.96 454.20,229.86 454.40,228.76 454.60,230.12 454.80,231.48 455.00,230.13 455.20,228.77 455.40,230.05 455.60,231.34 455.80,228.56 456.00,225.79 456.20,229.19 456.40,232.59 456.60,230.42 456.80,228.24 457.00,229.35 457.20,230.46 457.40,227.37 457.60,224.27 457.80,228.37 458.00,232.46 458.20,230.01 458.40,227.56 458.60,229.94 458.80,232.31 459.00,227.48 459.20,222.65 459.40,227.54 459.60,232.43 459.80,230.47 460.00,228.51 460.20,229.43 460.40,230.35 460.60,228.74 460.80,227.14 461.00,229.74 461.20,232.33 461.40,229.20 461.60,226.06 461.80,229.40 462.00,232.73 462.20,229.05 462.40,225.37 462.60,228.98 462.80,232.59 463.00,229.13 463.20,225.66 463.40,228.27 463.60,230.88 463.80,228.76 464.00,226.63 464.20,228.92 464.40,231.22 464.60,228.46 464.80,225.71 465.00,227.94 465.20,230.18 465.40,227.80 465.60,225.41 465.80,227.78 466.00,230.14 466.20,229.19 466.40,228.24 466.60,229.34 466.80,230.44 467.00,228.31 467.20,226.17 467.40,229.48 467.60,232.79 467.80,231.07 468.00,229.35 468.20,229.83 468.40,230.32 468.60,228.05 468.80,225.77 469.00,228.76 469.20,231.76 469.40,229.20 469.60,226.64 469.80,229.60 470.00,232.55 470.20,230.64 470.40,228.72 470.60,229.85 470.80,230.97 471.00,228.45 471.20,225.93 471.40,228.97 471.60,232.01 471.80,230.60 472.00,229.18 472.20,230.57 472.40,231.96 472.60,230.02 472.80,228.07 473.00,230.20 473.20,232.34 473.40,230.72 473.60,229.10 473.80,230.12 474.00,231.14 474.20,230.25 474.40,229.36 474.60,230.60 474.80,231.85 475.00,229.90 475.20,227.94 475.40,229.81 475.60,231.67 475.80,230.40 476.00,229.13 476.20,229.73 476.40,230.33 476.60,227.80 476.80,225.27 477.00,228.05 477.20,230.84 477.40,229.88 477.60,228.93 477.80,229.95 478.00,230.98 478.20,229.88 478.40,228.78 478.60,230.08 478.80,231.38 479.00,229.94 479.20,228.50 479.40,229.82 479.60,231.14 479.80,230.09 480.00,229.04" fill="none" stroke="#161616" stroke-width="1.35" stroke-linejoin="miter" stroke-miterlimit="2"/>
<polyline points="36.00,473.14 36.20,470.81 36.40,468.48 36.60,466.15 36.80,468.56 37.00,470.97 37.20,473.38 37.40,471.91 37.60,470.43 37.80,468.96 38.00,469.82 38.20,470.69 38.40,471.56 38.60,470.02 38.80,468.49 39.00,466.95 39.20,468.97 39.40,471.00 39.60,473.02 39.80,470.46 40.00,467.91 40.20,465.35 40.40,468.22 40.60,471.08 40.80,473.95 41.00,472.29 41.20,470.62 41.40,468.96 41.60,469.74 41.80,470.52 42.00,471.31 42.20,469.34 42.40,467.37 42.60,465.41 42.80,467.22 43.00,469.03 43.20,470.84 43.40,470.02 43.60,469.20 43.80,468.38 44.00,469.72 44.20,471.05 44.40,472.38 44.60,470.51 44.80,468.65 45.00,466.78 45.20,468.78 45.40,470.79 45.60,472.79 45.78,471.38 45.80,471.22 45.82,455.50 46.00,455.50 46.20,455.50 46.40,455.50 46.58,455.50 46.60,455.50 46.62,470.32 46.80,471.27 47.00,469.04 47.20,466.81 47.40,464.57 47.60,467.10 47.80,469.63 48.00,472.16 48.20,471.11 48.40,470.07 48.60,469.02 48.80,470.19 49.00,471.36 49.20,472.53 49.40,471.24 49.60,469.95 49.80,468.67 50.00,470.16 50.20,471.66 50.40,473.16 50.60,470.96 50.80,468.76 51.00,466.56 51.20,468.90 51.40,471.23 51.60,473.57 51.80,471.88 52.00,470.18 52.20,468.49 52.40,470.11 52.60,471.73 52.80,473.35 53.00,472.02 53.20,470.68 53.40,469.34 53.60,469.84 53.80,470.33 54.00,470.83 54.20,469.21 54.40,467.59 54.60,465.97 54.80,468.60 55.00,471.23 55.08,472.28 55.12,448.40 55.20,448.40 55.40,448.40 55.60,448.40 55.80,448.40 56.00,448.40 56.18,448.40 56.20,441.20 56.22,441.20 56.40,441.20 56.60,441.20 56.68,441.20 56.72,441.20 56.80,441.20 56.98,441.20 57.00,441.20 57.02,467.68 57.20,468.73 57.40,469.89 57.60,471.05 57.80,470.26 58.00,469.46 58.20,468.66 58.40,470.03 58.60,471.39 58.80,472.75 59.00,471.51 59.20,470.26 59.40,469.01 59.60,470.00 59.80,471.00 60.00,471.99 60.20,470.87 60.40,469.74 60.60,468.62 60.80,469.77 61.00,470.92 61.20,472.07 61.40,470.66 61.60,469.25 61.80,467.85 62.00,469.52 62.20,471.19 62.40,472.87 62.60,471.53 62.80,470.20 63.00,468.87 63.20,470.45 63.40,472.04 63.60,473.63 63.80,472.21 64.00,470.78 64.20,469.36 64.40,470.29 64.60,471.22 64.80,472.15 65.00,471.27 65.20,470.40 65.40,469.52 65.60,470.63 65.80,471.75 66.00,472.86 66.20,471.81 66.40,470.76 66.60,469.71 66.80,471.00 66.88,471.52 66.92,453.40 67.00,453.40 67.20,453.40 67.40,453.40 67.60,453.40 67.68,453.40 67.72,469.02 67.80,468.32 68.00,470.13 68.20,471.93 68.40,473.74 68.60,471.76 68.80,469.79 69.00,467.81 69.20,469.87 69.40,471.92 69.48,472.75 69.52,416.80 69.60,416.80 69.80,416.80 70.00,416.80 70.20,416.80 70.40,416.80 70.60,416.80 70.80,416.80 71.00,416.80 71.18,416.80 71.20,336.50 71.22,336.50 71.40,336.50 71.60,336.50 71.80,336.50 72.00,336.50 72.20,336.50 72.38,336.50 72.40,336.50 72.42,357.30 72.60,357.30 72.80,357.30 73.00,357.30 73.20,357.30 73.40,357.30 73.60,357.30 73.80,357.30 74.00,357.30 74.20,357.30 74.40,357.30 74.60,357.30 74.78,357.30 74.80,357.30 74.82,469.53 75.00,468.45 75.20,470.07 75.40,471.70 75.60,473.32 75.80,472.06 76.00,470.79 76.20,469.53 76.40,470.92 76.60,472.32 76.80,473.71 77.00,470.31 77.20,466.90 77.40,463.50 77.60,466.79 77.80,470.08 77.98,473.04 78.00,448.40 78.02,448.40 78.20,448.40 78.40,448.40 78.60,448.40 78.80,448.40 79.00,448.40 79.20,448.40 79.40,448.40 79.48,448.40 79.52,437.60 79.60,437.60 79.80,437.60 80.00,437.60 80.18,437.60 80.20,437.60 80.22,447.60 80.40,447.60 80.60,447.60 80.80,447.60 81.00,447.60 81.20,447.60 81.38,447.60 81.40,447.60 81.42,471.11 81.60,472.20 81.80,470.74 82.00,469.29 82.20,467.84 82.40,468.92 82.60,470.00 82.80,471.09 83.00,470.56 83.20,470.03 83.40,469.50 83.60,470.85 83.80,472.21 84.00,473.57 84.20,471.73 84.40,469.88 84.60,468.04 84.80,469.42 85.00,470.80 85.20,472.19 85.40,471.36 85.58,470.61 85.60,456.30 85.62,456.30 85.80,456.30 86.00,456.30 86.20,456.30 86.38,456.30 86.40,456.30 86.42,470.98 86.60,469.82 86.80,468.52 87.00,467.22 87.20,469.10 87.40,470.98 87.60,472.85 87.80,471.44 88.00,470.02 88.20,468.61 88.40,469.67 88.60,470.73 88.80,471.78 89.00,470.19 89.20,468.60 89.40,467.01 89.60,468.85 89.80,470.69 90.00,472.54 90.20,470.52 90.40,468.50 90.60,466.48 90.80,467.99 91.00,469.50 91.20,471.02 91.40,470.35 91.58,469.74 91.60,455.50 91.62,455.50 91.80,455.50 92.00,455.50 92.20,455.50 92.38,455.50 92.40,455.50 92.42,471.19 92.60,470.25 92.80,469.21 93.00,468.16 93.20,469.78 93.40,471.39 93.60,473.01 93.80,470.85 94.00,468.70 94.20,466.55 94.40,468.91 94.60,471.28 94.80,473.64 95.00,470.83 95.20,468.01 95.40,465.20 95.60,467.24 95.80,469.27 96.00,471.31 96.20,469.70 96.40,468.09 96.60,466.47 96.80,468.19 96.98,469.73 97.00,460.60 97.02,460.60 97.20,460.60 97.40,460.60 97.60,460.60 97.78,460.60 97.80,460.60 97.82,465.98 98.00,468.15 98.20,470.56 98.40,472.97 98.60,471.07 98.80,469.17 99.00,467.26 99.20,468.64 99.40,470.01 99.60,471.39 99.80,470.48 100.00,469.58 100.20,468.67 100.40,470.08 100.60,471.49 100.80,472.90 101.00,471.41 101.20,469.93 101.40,468.44 101.60,469.35 101.80,470.26 102.00,471.17 102.20,468.97 102.40,466.76 102.60,464.55 102.80,467.17 103.00,469.79 103.20,472.41 103.40,470.72 103.60,469.03 103.80,467.34 104.00,468.97 104.20,470.61 104.40,472.24 104.60,470.76 104.80,469.28 105.00,467.79 105.20,469.66 105.40,471.53 105.60,473.40 105.80,472.13 106.00,470.86 106.20,469.58 106.40,470.87 106.58,472.03 106.60,459.00 106.62,459.00 106.80,459.00 107.00,459.00 107.20,459.00 107.38,459.00 107.40,459.00 107.42,466.84 107.60,468.16 107.80,469.63 108.00,471.10 108.20,469.75 108.40,468.40 108.60,467.05 108.80,469.15 109.00,471.25 109.20,473.34 109.40,471.03 109.60,468.71 109.80,466.39 110.00,466.74 110.20,467.09 110.40,467.43 110.60,467.98 110.80,468.53 111.00,469.07 111.20,470.57 111.40,472.07 111.60,473.56 111.80,471.47 112.00,469.37 112.20,467.27 112.40,469.26 112.60,471.25 112.80,473.24 113.00,471.08 113.20,468.93 113.40,466.78 113.60,468.04 113.80,469.30 114.00,470.57 114.20,469.07 114.40,467.57 114.60,466.07 114.80,468.51 115.00,470.94 115.20,473.38 115.40,471.07 115.60,468.75 115.80,466.44 116.00,468.02 116.20,469.60 116.40,471.18 116.60,470.62 116.80,470.06 117.00,469.51 117.20,470.05 117.40,470.60 117.60,471.15 117.80,469.41 118.00,467.66 118.20,465.92 118.40,467.89 118.60,469.87 118.80,471.84 119.00,470.29 119.20,468.73 119.40,467.17 119.60,469.35 119.80,471.53 120.00,473.70 120.20,471.54 120.40,469.37 120.58,467.42 120.60,462.30 120.62,462.30 120.80,462.30 121.00,462.30 121.20,462.30 121.38,462.30 121.40,462.30 121.42,470.50 121.60,469.17 121.80,467.68 122.00,468.93 122.20,470.19 122.40,471.44 122.60,469.72 122.80,468.00 123.00,466.28 123.20,468.32 123.40,470.36 123.60,472.40 123.80,470.19 124.00,467.99 124.20,465.78 124.40,467.61 124.60,469.44 124.80,471.27 125.00,469.87 125.20,468.48 125.40,467.09 125.60,468.76 125.80,470.43 126.00,472.10 126.20,471.38 126.40,470.67 126.60,469.95 126.80,470.94 127.00,471.94 127.20,472.93 127.40,470.85 127.60,468.77 127.80,466.70 128.00,468.75 128.20,470.80 128.40,472.85 128.60,471.16 128.80,469.47 129.00,467.78 129.20,469.84 129.40,471.89 129.60,473.94 129.80,472.55 130.00,471.15 130.20,469.76 130.40,470.94 130.60,472.13 130.80,473.31 131.00,472.05 131.20,470.79 131.40,469.52 131.60,470.80 131.80,472.07 132.00,473.34 132.20,470.93 132.40,468.52 132.60,466.11 132.80,468.70 133.00,471.29 133.20,473.88 133.40,472.67 133.60,471.46 133.80,470.24 134.00,471.36 134.20,472.48 134.40,473.60 134.60,472.57 134.80,471.54 135.00,470.51 135.20,471.70 135.40,472.89 135.60,474.08 135.80,472.09 136.00,470.11 136.20,468.13 136.40,469.55 136.60,470.97 136.80,472.38 137.00,470.79 137.20,469.20 137.40,467.61 137.60,469.03 137.80,470.45 138.00,471.87 138.20,471.40 138.40,470.93 138.60,470.46 138.80,471.25 139.00,472.03 139.20,472.82 139.40,471.01 139.60,469.20 139.80,467.39 140.00,469.03 140.20,470.68 140.40,472.33 140.60,471.21 140.80,470.10 141.00,468.98 141.20,470.49 141.40,471.99 141.60,473.49 141.80,471.82 142.00,470.15 142.20,468.48 142.40,470.16 142.60,471.83 142.80,473.51 143.00,472.49 143.20,471.47 143.40,470.45 143.60,471.58 143.80,472.71 144.00,473.84 144.20,471.53 144.40,469.21 144.53,467.71 144.57,444.60 144.60,444.60 144.80,444.60 145.00,444.60 145.20,444.60 145.40,444.60 145.43,444.60 145.47,471.04 145.60,470.50 145.80,469.68 146.00,470.83 146.20,471.98 146.40,473.13 146.60,471.46 146.80,469.78 147.00,468.11 147.20,469.81 147.40,471.51 147.60,473.21 147.80,472.16 148.00,471.11 148.20,470.07 148.40,469.98 148.60,469.90 148.80,469.82 149.00,470.11 149.20,470.40 149.40,470.69 149.60,471.22 149.80,471.76 150.00,472.29 150.20,471.29 150.40,470.29 150.60,469.29 150.80,470.15 151.00,471.01 151.20,471.87 151.40,471.28 151.60,470.69 151.80,470.10 152.00,470.25 152.20,470.41 152.40,470.57 152.60,469.74 152.80,468.92 153.00,468.09 153.20,470.07 153.40,472.05 153.60,474.03 153.80,472.30 154.00,470.57 154.20,468.83 154.40,469.86 154.60,470.90 154.80,471.93 155.00,470.85 155.20,469.77 155.40,468.69 155.60,470.15 155.80,471.61 156.00,473.06 156.20,471.32 156.40,469.58 156.60,467.83 156.80,468.62 157.00,469.41 157.20,470.19 157.40,470.04 157.60,469.88 157.80,469.72 158.00,471.01 158.20,472.29 158.40,473.58 158.60,472.21 158.80,470.85 159.00,469.48 159.20,470.59 159.40,471.70 159.60,472.81 159.80,471.20 160.00,469.59 160.20,467.98 160.40,469.63 160.60,471.29 160.80,472.95 161.00,471.37 161.20,469.79 161.40,468.22 161.60,469.50 161.80,470.78 162.00,472.06 162.20,471.00 162.40,469.94 162.60,468.88 162.80,470.48 163.00,472.09 163.20,473.69 163.40,472.16 163.60,470.63 163.80,469.10 164.00,470.80 164.20,472.50 164.40,474.19 164.60,472.18 164.80,470.17 165.00,468.15 165.20,469.49 165.40,470.83 165.60,472.17 165.80,470.79 166.00,469.41 166.20,468.03 166.40,469.65 166.60,471.26 166.80,472.88 167.00,471.75 167.20,470.62 167.40,469.49 167.60,470.48 167.80,471.47 168.00,472.46 168.20,470.51 168.40,468.56 168.60,466.61 168.80,468.80 169.00,470.99 169.20,473.18 169.40,471.67 169.60,470.17 169.80,468.66 170.00,469.81 170.20,470.96 170.40,472.11 170.60,470.50 170.80,468.90 171.00,467.30 171.20,468.82 171.40,470.35 171.60,471.87 171.80,471.02 172.00,470.17 172.20,469.31 172.40,470.55 172.60,471.78 172.80,473.02 173.00,472.29 173.20,471.57 173.40,470.84 173.60,471.46 173.80,472.08 174.00,472.70 174.20,472.01 174.40,471.32 174.60,470.63 174.80,471.07 175.00,471.52 175.20,471.96 175.40,469.95 175.60,467.94 175.80,465.93 176.00,468.55 176.20,471.17 176.40,473.79 176.60,472.23 176.80,470.68 177.00,469.12 177.20,470.72 177.40,472.33 177.60,473.93 177.80,471.28 178.00,468.64 178.20,465.99 178.40,468.51 178.60,471.04 178.80,473.56 179.00,471.48 179.20,469.39 179.40,467.30 179.60,469.22 179.80,471.14 180.00,473.06 180.20,472.08 180.40,471.09 180.60,470.11 180.80,471.41 181.00,472.71 181.20,474.01 181.40,472.95 181.60,471.89 181.80,470.83 182.00,471.83 182.20,472.84 182.40,473.85 182.60,472.02 182.80,470.19 183.00,468.36 183.20,469.74 183.40,471.12 183.60,472.50 183.80,471.14 184.00,469.79 184.20,468.43 184.40,470.27 184.60,472.10 184.80,473.94 185.00,472.16 185.20,470.37 185.40,468.59 185.60,470.38 185.80,472.16 186.00,473.95 186.20,472.31 186.40,470.67 186.60,469.03 186.80,470.20 187.00,471.36 187.20,472.52 187.40,471.94 187.60,471.37 187.80,470.79 188.00,471.53 188.20,472.28 188.40,473.02 188.60,471.57 188.80,470.12 189.00,468.67 189.20,470.29 189.40,471.91 189.60,473.53 189.80,471.73 190.00,469.94 190.20,468.15 190.40,469.83 190.60,471.51 190.80,473.20 191.00,471.62 191.20,470.04 191.40,468.46 191.60,470.19 191.80,471.91 192.00,473.64 192.20,472.19 192.40,470.73 192.60,469.28 192.80,470.72 193.00,472.17 193.20,473.61 193.40,471.72 193.60,469.83 193.80,467.93 194.00,470.06 194.20,472.18 194.40,474.30 194.60,472.47 194.80,470.65 195.00,468.82 195.20,470.45 195.40,472.07 195.60,473.70 195.80,471.93 196.00,470.16 196.20,468.39 196.40,470.24 196.60,472.10 196.80,473.96 197.00,472.43 197.20,470.90 197.40,469.37 197.60,470.27 197.80,471.18 198.00,472.08 198.20,471.28 198.40,470.47 198.60,469.67 198.80,470.66 199.00,471.65 199.20,472.65 199.40,471.90 199.60,471.16 199.80,470.41 200.00,470.98 200.20,471.54 200.40,472.11 200.60,470.84 200.80,469.57 201.00,468.31 201.20,469.71 201.40,471.11 201.60,472.52 201.80,471.60 202.00,470.69 202.20,469.77 202.40,471.00 202.60,472.22 202.80,473.44 203.00,471.67 203.20,469.89 203.40,468.12 203.60,469.45 203.80,470.79 204.00,472.13 204.20,470.55 204.40,468.97 204.60,467.39 204.80,469.22 205.00,471.05 205.20,472.87 205.40,471.52 205.60,470.18 205.80,468.83 206.00,470.41 206.20,472.00 206.40,473.59 206.60,472.22 206.80,470.85 207.00,469.48 207.20,470.92 207.40,472.37 207.60,473.82 207.80,472.01 208.00,470.20 208.20,468.38 208.40,469.55 208.60,470.71 208.80,471.88 209.00,470.73 209.20,469.59 209.40,468.44 209.60,470.33 209.80,472.23 210.00,474.12 210.20,472.84 210.40,471.57 210.60,470.29 210.80,471.11 211.00,471.94 211.20,472.77 211.40,472.20 211.60,471.63 211.80,471.07 212.00,472.13 212.20,473.19 212.40,474.25 212.60,472.78 212.80,471.30 213.00,469.83 213.20,470.70 213.40,471.58 213.60,472.46 213.80,471.45 214.00,470.44 214.20,469.44 214.40,470.95 214.60,472.46 214.80,473.97 215.00,472.95 215.20,471.93 215.40,470.92 215.60,471.42 215.80,471.93 216.00,472.44 216.20,471.12 216.40,469.81 216.60,468.49 216.80,469.71 217.00,470.93 217.20,472.15 217.40,471.54 217.60,470.92 217.80,470.31 218.00,470.82 218.20,471.34 218.40,471.85 218.60,471.32 218.80,470.79 219.00,470.26 219.20,470.87 219.40,471.48 219.60,472.09 219.80,470.67 220.00,469.26 220.20,467.84 220.40,469.98 220.60,472.13 220.80,474.27 221.00,472.97 221.20,471.67 221.40,470.38 221.60,470.88 221.80,471.39 222.00,471.90 222.20,470.69 222.40,469.48 222.60,468.27 222.80,470.20 222.98,471.93 223.00,446.30 223.02,446.30 223.20,446.30 223.40,446.30 223.60,446.30 223.80,446.30 224.00,446.30 224.20,446.30 224.40,446.30 224.58,446.30 224.60,441.20 224.62,441.20 224.80,441.20 225.00,441.20 225.20,441.20 225.38,441.20 225.40,441.20 225.42,446.30 225.60,446.30 225.80,446.30 226.00,446.30 226.20,446.30 226.40,446.30 226.60,446.30 226.80,446.30 226.98,446.30 227.00,446.30 227.02,472.57 227.20,471.57 227.40,470.46 227.60,471.20 227.80,471.94 228.00,472.68 228.20,471.91 228.40,471.15 228.60,470.39 228.80,471.59 229.00,472.79 229.20,473.99 229.40,471.79 229.60,469.58 229.80,467.38 230.00,469.34 230.20,471.30 230.40,473.26 230.60,472.07 230.80,470.89 231.00,469.70 231.20,471.09 231.40,472.47 231.60,473.86 231.80,472.05 232.00,470.25 232.20,468.45 232.40,470.34 232.60,472.24 232.80,474.13 233.00,472.04 233.20,469.95 233.40,467.86 233.60,469.33 233.80,470.79 234.00,472.25 234.20,471.07 234.40,469.88 234.60,468.70 234.80,470.09 235.00,471.48 235.20,472.87 235.40,471.62 235.60,470.37 235.80,469.12 236.00,470.76 236.20,472.40 236.40,474.03 236.60,471.90 236.80,469.76 237.00,467.63 237.20,469.18 237.40,470.74 237.60,472.30 237.80,471.77 238.00,471.25 238.20,470.73 238.40,471.82 238.60,472.90 238.80,473.99 239.00,472.53 239.20,471.06 239.40,469.60 239.60,470.74 239.80,471.88 240.00,473.02 240.20,471.66 240.40,470.30 240.60,468.94 240.80,470.36 241.00,471.78 241.20,473.19 241.40,472.03 241.60,470.87 241.80,469.71 242.00,471.01 242.20,472.30 242.40,473.60 242.60,471.53 242.80,469.47 243.00,467.40 243.20,469.46 243.40,471.53 243.60,473.59 243.80,471.66 244.00,469.73 244.20,467.79 244.40,469.81 244.60,471.83 244.80,473.85 245.00,472.83 245.20,471.82 245.40,470.80 245.60,471.78 245.80,472.75 246.00,473.73 246.20,471.67 246.40,469.61 246.60,467.54 246.80,469.56 247.00,471.57 247.20,473.58 247.40,472.73 247.60,471.87 247.80,471.02 248.00,471.64 248.20,472.27 248.40,472.89 248.60,471.85 248.80,470.82 249.00,469.78 249.20,471.27 249.40,472.76 249.60,474.25 249.80,472.99 250.00,471.72 250.20,470.45 250.40,471.68 250.60,472.90 250.80,474.13 251.00,473.11 251.20,472.09 251.40,471.08 251.60,472.01 251.80,472.94 252.00,473.88 252.20,471.99 252.40,470.10 252.60,468.21 252.80,469.45 253.00,470.69 253.20,471.93 253.40,470.97 253.60,470.01 253.80,469.05 254.00,470.74 254.20,472.42 254.40,474.10 254.60,472.33 254.80,470.56 255.00,468.78 255.20,469.98 255.40,471.18 255.60,472.37 255.80,471.59 256.00,470.80 256.20,470.01 256.40,470.97 256.60,471.94 256.80,472.90 257.00,471.15 257.20,469.41 257.40,467.66 257.60,469.38 257.80,471.10 258.00,472.82 258.20,471.16 258.40,469.50 258.60,467.83 258.80,469.63 259.00,471.42 259.20,473.21 259.40,471.53 259.60,469.85 259.80,468.17 260.00,469.72 260.20,471.27 260.40,472.82 260.60,471.59 260.80,470.35 261.00,469.11 261.20,470.58 261.40,472.05 261.60,473.52 261.80,472.54 262.00,471.55 262.20,470.56 262.40,471.35 262.60,472.15 262.80,472.95 263.00,472.08 263.20,471.21 263.40,470.35 263.60,471.01 263.80,471.67 264.00,472.33" fill="none" stroke="#161616" stroke-width="2.2" stroke-linejoin="miter" stroke-miterlimit="2"/>
<polyline points="332.30,477.32 332.50,474.43 332.70,471.53 332.90,474.21 333.10,476.89 333.30,474.04 333.50,471.19 333.70,474.00 333.90,476.80 334.10,474.69 334.30,472.58 334.50,474.93 334.70,477.29 334.90,473.89 335.10,470.49 335.30,473.70 335.50,476.91 335.70,474.26 335.90,471.60 336.08,473.65 336.10,446.20 336.12,446.20 336.30,446.20 336.50,446.20 336.70,446.20 336.88,446.20 336.90,446.20 336.92,475.59 337.10,477.28 337.30,475.57 337.50,473.86 337.70,474.44 337.90,475.02 338.10,472.56 338.30,470.10 338.50,473.05 338.70,476.00 338.90,473.67 339.10,471.35 339.30,473.70 339.50,476.04 339.70,474.74 339.90,473.45 340.10,474.37 340.30,475.29 340.50,474.34 340.70,473.39 340.90,475.21 341.10,477.02 341.30,474.57 341.50,472.11 341.70,473.77 341.90,475.43 342.10,472.01 342.30,468.58 342.50,472.94 342.70,477.30 342.90,475.55 343.10,473.80 343.30,474.79 343.38,475.19 343.42,460.00 343.50,460.00 343.70,460.00 343.90,460.00 344.10,460.00 344.18,460.00 344.22,475.61 344.30,476.44 344.50,475.11 344.70,473.79 344.90,475.38 345.10,476.97 345.30,473.18 345.50,469.40 345.70,472.56 345.90,475.73 346.10,474.91 346.30,474.10 346.50,474.59 346.70,475.09 346.90,473.90 347.10,472.72 347.30,473.91 347.50,475.10 347.70,474.00 347.90,472.91 348.10,474.42 348.30,475.92 348.50,474.51 348.70,473.10 348.90,475.30 349.10,477.51 349.30,473.78 349.50,470.04 349.58,471.40 349.62,456.20 349.70,456.20 349.90,456.20 350.10,456.20 350.30,456.20 350.38,456.20 350.42,474.11 350.50,475.08 350.70,477.51 350.90,475.42 351.10,473.33 351.30,474.30 351.50,475.27 351.70,474.19 351.90,473.11 352.10,474.13 352.30,475.15 352.50,473.05 352.70,470.95 352.90,473.52 353.10,476.10 353.30,473.14 353.50,470.19 353.70,473.21 353.90,476.24 354.10,474.42 354.30,472.61 354.50,473.82 354.70,475.02 354.90,472.96 355.10,470.89 355.30,473.01 355.50,475.14 355.70,474.12 355.90,473.10 356.08,474.56 356.10,460.80 356.12,460.80 356.30,460.80 356.50,460.80 356.70,460.80 356.88,460.80 356.90,460.80 356.92,475.25 357.10,477.06 357.30,475.30 357.50,473.55 357.70,474.97 357.90,476.40 358.10,474.46 358.30,472.53 358.50,474.72 358.70,476.91 358.90,474.62 359.10,472.34 359.30,474.67 359.50,477.00 359.70,474.03 359.90,471.06 360.10,473.43 360.30,475.80 360.50,473.59 360.70,471.39 360.90,474.02 361.10,476.65 361.30,473.99 361.50,471.34 361.70,474.41 361.90,477.47 362.10,475.24 362.30,473.00 362.50,474.04 362.70,475.08 362.90,474.47 363.10,473.86 363.30,474.47 363.50,475.07 363.70,474.39 363.78,474.12 363.82,460.80 363.90,460.80 364.10,460.80 364.30,460.80 364.50,460.80 364.58,460.80 364.62,471.61 364.70,470.40 364.90,470.35 365.10,470.31 365.30,471.56 365.50,472.81 365.70,474.69 365.90,476.57 366.10,475.33 366.30,474.09 366.50,474.78 366.70,475.47 366.90,473.66 367.10,471.86 367.30,473.41 367.50,474.96 367.70,473.08 367.90,471.20 368.10,474.40 368.30,477.60 368.38,476.70 368.42,461.50 368.50,461.50 368.70,461.50 368.90,461.50 369.10,461.50 369.18,461.50 369.22,473.69 369.30,472.76 369.50,470.44 369.70,473.42 369.90,476.39 370.10,472.83 370.30,469.27 370.50,472.13 370.70,474.99 370.90,473.03 371.10,471.07 371.30,473.62 371.50,476.17 371.70,474.18 371.90,472.20 372.10,474.80 372.30,477.41 372.50,474.51 372.70,471.62 372.90,474.03 373.10,476.45 373.30,473.19 373.50,469.93 373.70,470.91 373.88,471.79 373.90,471.88 373.92,460.00 374.10,460.00 374.30,460.00 374.50,460.00 374.68,460.00 374.70,460.00 374.72,476.03 374.90,474.65 375.10,473.13 375.30,475.02 375.50,476.90 375.70,474.96 375.90,473.02 376.10,474.12 376.30,475.23 376.50,474.59 376.58,474.34 376.62,462.30 376.70,462.30 376.90,462.30 377.10,462.30 377.30,462.30 377.38,462.30 377.42,471.73 377.50,470.74 377.70,473.86 377.90,476.98 378.10,474.18 378.30,471.38 378.50,474.24 378.70,477.10 378.90,474.09 379.10,471.09 379.30,473.52 379.50,475.95 379.70,473.38 379.90,470.81 380.10,473.52 380.30,476.23 380.50,474.48 380.70,472.72 380.90,474.29 381.10,475.85 381.30,473.10 381.50,470.36 381.70,472.73 381.90,475.11 381.98,474.77 382.02,450.80 382.10,450.80 382.30,450.80 382.38,450.80 382.42,390.00 382.50,390.00 382.70,390.00 382.90,390.00 383.10,390.00 383.18,390.00 383.22,450.80 383.30,450.80 383.50,450.80 383.70,450.80 383.90,450.80 384.10,450.80 384.30,450.80 384.48,450.80 384.50,450.80 384.52,474.16 384.70,471.50 384.90,474.12 385.10,476.75 385.30,474.36 385.50,471.98 385.68,474.07 385.70,412.30 385.72,412.30 385.90,412.30 386.10,412.30 386.30,412.30 386.38,412.30 386.42,353.00 386.50,353.00 386.70,353.00 386.90,353.00 387.10,353.00 387.28,353.00 387.30,353.00 387.32,412.30 387.50,412.30 387.70,412.30 387.90,412.30 388.10,412.30 388.30,412.30 388.48,412.30 388.50,412.30 388.52,475.12 388.70,473.54 388.90,475.26 389.10,476.97 389.30,474.21 389.50,471.44 389.70,473.45 389.90,475.45 390.10,473.06 390.30,470.67 390.38,472.02 390.42,460.00 390.50,460.00 390.70,460.00 390.90,460.00 391.10,460.00 391.18,460.00 391.22,472.10 391.30,473.20 391.50,475.96 391.70,473.82 391.90,471.68 392.10,474.11 392.30,476.55 392.50,475.00 392.70,473.45 392.90,474.65 393.10,475.86 393.30,474.76 393.38,474.33 393.42,445.40 393.50,445.40 393.70,445.40 393.90,445.40 394.10,445.40 394.18,445.40 394.22,473.88 394.30,473.01 394.50,475.16 394.70,477.30 394.90,474.63 395.10,471.95 395.30,474.69 395.50,477.42 395.70,473.59 395.90,469.75 396.10,472.42 396.30,475.09 396.50,473.95 396.70,472.81 396.90,473.85 397.10,474.88 397.30,471.70 397.50,468.52 397.70,471.91 397.90,475.30 398.10,474.12 398.30,472.93 398.50,474.55 398.58,475.20 398.62,467.00 398.70,467.00 398.90,467.00 399.10,467.00 399.30,467.00 399.38,467.00 399.42,475.11 399.50,476.41 399.70,473.08 399.90,469.76 400.10,473.20 400.30,476.65 400.50,474.15 400.70,471.65 400.90,473.67 401.10,475.69 401.30,474.59 401.50,473.49 401.70,474.82 401.90,476.16 402.10,474.56 402.30,472.96 402.50,474.89 402.70,476.83 402.90,473.60 403.10,470.38 403.30,473.68 403.50,476.98 403.70,475.26 403.90,473.54 404.10,475.25 404.18,475.94 404.22,469.00 404.30,469.00 404.50,469.00 404.70,469.00 404.90,469.00 404.98,469.00 405.02,475.67 405.10,475.99 405.30,473.54 405.50,471.08 405.70,474.08 405.90,477.07 406.10,475.40 406.30,473.72 406.50,472.16 406.70,470.61 406.90,471.87 407.10,473.12 407.30,474.28 407.50,475.45 407.70,472.00 407.90,468.54 408.10,472.57 408.30,476.59 408.50,474.58 408.70,472.58 408.78,473.18 408.82,471.00 408.90,471.00 409.10,471.00 409.30,471.00 409.50,471.00 409.58,471.00 409.62,474.30 409.70,475.06 409.90,476.95 410.10,471.96 410.30,466.96 410.50,471.94 410.70,476.92 410.90,475.43 411.10,473.95 411.30,475.21 411.50,476.47 411.70,475.67 411.90,474.86 412.10,475.97 412.30,477.08 412.50,475.27 412.70,473.47 412.90,474.55 413.10,475.64 413.30,474.64 413.50,473.65 413.70,475.38 413.90,477.11 414.10,475.54 414.30,473.97 414.50,475.19 414.70,476.41 414.90,474.45 415.10,472.49 415.30,474.05 415.50,475.62 415.70,473.73 415.90,471.85 416.10,474.25 416.30,476.65 416.50,474.38 416.70,472.11 416.90,474.07 417.10,476.04 417.30,472.70 417.50,469.35 417.70,473.17 417.90,477.00 418.10,474.78 418.30,472.56 418.50,474.10 418.70,475.64 418.90,474.90 419.10,474.17 419.30,475.83 419.50,477.49 419.70,474.70 419.90,471.92 420.10,474.14 420.30,476.37 420.50,474.47 420.70,472.58 420.90,473.15 421.10,473.72 421.30,473.50 421.50,473.28 421.70,474.54 421.90,475.80 422.10,475.23 422.30,474.66 422.50,476.12 422.70,477.57 422.90,475.60 423.10,473.62 423.30,475.26 423.50,476.91 423.70,474.62 423.90,472.34 424.10,472.49 424.30,472.64 424.50,473.76 424.70,474.88 424.90,476.21 425.10,477.55 425.30,475.55 425.50,473.56 425.70,475.57 425.90,477.57 426.10,476.10 426.30,474.62 426.50,476.07 426.70,477.51 426.90,474.89 427.10,472.27 427.30,474.60 427.50,476.94 427.70,474.40 427.90,471.85 428.10,473.73 428.30,475.61 428.50,473.87 428.70,472.13 428.90,474.06 429.10,475.99 429.30,474.21 429.50,472.44 429.70,474.74 429.90,477.04 430.10,475.94 430.30,474.84 430.50,475.87 430.70,476.91 430.90,474.67 431.10,472.42 431.30,474.69 431.50,476.95 431.70,474.46 431.90,471.96 432.10,473.15 432.30,474.34 432.50,473.07 432.70,471.81 432.90,473.64 433.10,475.47 433.30,472.86 433.50,470.25 433.70,472.92 433.90,475.59 434.10,474.31 434.30,473.04 434.50,474.93 434.70,476.82 434.90,475.27 435.10,473.71 435.30,474.83 435.50,475.95 435.68,474.97 435.70,450.80 435.72,450.80 435.90,450.80 436.08,450.80 436.10,435.80 436.12,435.80 436.30,435.80 436.50,435.80 436.70,435.80 436.88,435.80 436.90,435.80 436.92,450.80 437.10,450.80 437.28,450.80 437.30,450.80 437.32,474.04 437.50,472.11 437.70,474.29 437.90,476.47 438.10,475.34 438.30,474.21 438.50,475.01 438.70,475.81 438.90,475.23 439.10,474.65 439.30,475.74 439.50,476.83 439.70,474.40 439.90,471.97 440.10,474.14 440.30,476.30 440.50,474.27 440.70,472.24 440.90,474.81 441.10,477.39 441.30,475.47 441.50,473.55 441.70,475.29 441.90,477.03 442.10,475.55 442.30,474.08 442.50,475.70 442.70,477.33 442.90,474.87 443.10,472.41 443.30,474.75 443.50,477.08 443.70,475.90 443.90,474.71 444.10,473.45 444.30,472.19 444.50,472.15 444.70,472.10 444.90,474.53 445.10,476.96 445.30,475.74 445.50,474.53 445.70,475.44 445.90,476.36 446.10,475.43 446.30,474.49 446.50,475.55 446.70,476.62 446.90,475.50 447.10,474.39 447.30,475.46 447.50,476.54 447.70,475.13 447.90,473.72 448.10,475.56 448.30,477.39 448.50,475.46 448.70,473.52 448.90,475.15 449.10,476.77 449.30,473.57 449.50,470.36 449.70,473.18 449.90,475.99 450.10,474.05 450.30,472.11 450.50,474.06 450.70,476.00 450.90,474.40 451.10,472.80 451.30,474.46 451.50,476.12 451.70,474.08 451.90,472.04 452.10,474.02 452.30,476.01 452.50,474.39 452.70,472.77 452.90,474.78 453.10,476.79 453.30,474.88 453.50,472.96 453.70,475.01 453.90,477.05 454.10,475.99 454.30,474.92 454.50,476.13 454.70,477.34 454.90,475.85 455.10,474.37 455.30,475.96 455.50,477.56 455.70,475.40 455.90,473.25 456.10,474.58 456.30,475.92 456.50,474.05 456.70,472.18 456.90,474.77 457.10,477.36 457.30,475.12 457.50,472.89 457.70,474.56 457.90,476.24 458.10,474.91 458.30,473.59 458.50,474.64 458.70,475.70 458.90,474.30 459.10,472.89 459.30,475.13 459.50,477.37 459.70,475.87 459.90,474.37 460.10,475.78 460.30,477.20 460.50,475.61 460.70,474.01 460.90,475.44 461.10,476.87 461.30,474.55 461.50,472.23 461.70,474.49 461.90,476.75 462.10,475.54 462.30,474.34 462.50,475.45 462.70,476.56 462.90,475.70 463.10,474.85 463.30,475.83 463.50,476.82 463.70,474.19 463.90,471.55 464.10,474.56 464.30,477.57 464.50,475.29 464.70,473.02 464.90,474.33 465.10,475.65 465.30,473.91 465.50,472.18 465.70,474.81 465.90,477.45 466.10,475.45 466.30,473.46 466.50,475.40 466.70,477.35 466.90,475.77 467.10,474.19 467.30,475.12 467.50,476.04 467.70,475.40 467.90,474.76 468.10,475.32 468.30,475.88 468.50,475.40 468.70,474.92 468.90,475.80 469.10,476.69 469.30,475.67 469.50,474.64 469.70,476.01 469.90,477.39 470.10,474.83 470.30,472.28 470.50,474.86 470.70,477.45 470.90,474.97 471.10,472.49 471.30,472.73 471.50,472.98 471.70,472.91 471.90,472.84 472.10,475.12 472.30,477.41 472.50,475.02 472.70,472.63 472.90,474.41 473.10,476.19 473.30,474.71 473.50,473.24 473.70,474.84 473.90,476.44 474.10,474.52 474.30,472.60 474.50,475.03 474.70,477.46 474.90,476.06 475.10,474.66 475.30,476.07 475.50,477.48 475.70,472.59 475.90,467.70 476.10,471.69 476.30,475.69 476.50,474.55 476.70,473.42 476.90,472.72 477.10,472.03 477.30,473.24 477.50,474.45 477.70,475.86 477.90,477.26" fill="none" stroke="#1a1a1a" stroke-width="1.25" stroke-linejoin="miter" stroke-miterlimit="2"/>
<polyline points="37.70,745.02 37.90,745.39 38.10,745.76 38.30,746.13 38.50,747.74 38.70,749.34 38.90,750.95 39.10,748.43 39.30,745.92 39.50,743.41 39.70,744.85 39.90,746.30 40.10,747.75 40.30,746.85 40.50,745.96 40.70,745.06 40.90,746.73 41.10,748.40 41.30,750.08 41.50,748.56 41.70,747.05 41.90,745.54 42.10,746.38 42.30,747.23 42.50,748.08 42.70,747.21 42.90,746.35 43.10,745.49 43.30,746.75 43.50,748.01 43.70,749.27 43.90,747.56 44.10,745.86 44.30,744.16 44.50,746.35 44.70,748.54 44.90,750.73 45.10,748.68 45.30,746.63 45.50,744.58 45.70,745.64 45.90,746.70 45.98,747.12 46.02,739.60 46.10,739.60 46.30,739.60 46.50,739.60 46.70,739.60 46.90,739.60 46.98,739.60 47.02,745.97 47.10,746.40 47.30,747.48 47.50,745.17 47.70,742.87 47.90,740.57 48.10,743.84 48.30,747.11 48.50,750.38 48.70,747.73 48.90,745.09 49.10,742.44 49.30,744.95 49.50,747.45 49.70,749.96 49.90,747.04 50.10,744.11 50.30,741.19 50.50,743.69 50.70,746.20 50.90,748.70 51.10,746.24 51.30,743.79 51.50,741.33 51.68,743.78 51.70,733.80 51.72,733.80 51.90,733.80 52.10,733.80 52.30,733.80 52.50,733.80 52.70,733.80 52.88,733.80 52.90,733.80 52.92,746.78 53.10,748.15 53.30,749.66 53.50,747.86 53.70,746.05 53.90,744.25 54.10,746.09 54.30,747.94 54.50,749.78 54.70,747.86 54.90,745.94 55.10,744.01 55.30,746.25 55.50,748.48 55.70,750.71 55.90,747.54 56.10,744.37 56.30,741.20 56.38,742.45 56.42,740.80 56.50,740.80 56.70,740.80 56.90,740.80 57.10,740.80 57.30,740.80 57.38,740.80 57.42,744.64 57.50,743.73 57.70,744.95 57.90,746.17 58.10,747.40 58.30,745.16 58.50,742.91 58.70,740.67 58.90,742.89 59.10,745.11 59.30,747.32 59.50,745.86 59.70,744.39 59.90,742.92 60.10,744.26 60.30,745.60 60.48,746.81 60.50,720.80 60.52,720.80 60.70,720.80 60.90,720.80 61.10,720.80 61.30,720.80 61.50,720.80 61.70,720.80 61.90,720.80 62.10,720.80 62.30,720.80 62.48,720.80 62.50,720.80 62.52,745.12 62.70,747.43 62.90,750.00 63.10,748.63 63.30,747.26 63.50,745.89 63.70,746.74 63.90,747.59 64.10,748.44 64.30,746.89 64.50,745.33 64.70,743.77 64.90,745.25 65.10,746.73 65.30,748.21 65.50,746.80 65.70,745.38 65.90,743.97 66.10,745.26 66.30,746.54 66.50,747.83 66.70,744.43 66.90,741.04 67.10,737.65 67.30,741.64 67.50,745.63 67.70,749.62 67.90,747.29 68.10,744.96 68.30,742.64 68.50,745.09 68.70,747.55 68.90,750.01 69.10,747.93 69.30,745.86 69.50,743.79 69.70,745.28 69.90,746.77 70.10,748.26 70.30,746.79 70.48,745.46 70.50,724.60 70.52,724.60 70.70,724.60 70.90,724.60 71.10,724.60 71.30,724.60 71.50,724.60 71.70,724.60 71.90,724.60 72.10,724.60 72.30,724.60 72.50,724.60 72.70,724.60 72.90,724.60 73.10,724.60 73.30,724.60 73.48,724.60 73.50,724.60 73.52,747.61 73.70,748.68 73.90,745.82 74.10,742.97 74.28,740.41 74.30,712.00 74.32,712.00 74.50,712.00 74.70,712.00 74.90,712.00 75.10,712.00 75.30,712.00 75.50,712.00 75.70,712.00 75.88,712.00 75.90,615.80 75.92,615.80 76.10,615.80 76.30,615.80 76.50,615.80 76.70,615.80 76.90,615.80 77.10,615.80 77.30,615.80 77.50,615.80 77.70,615.80 77.90,615.80 78.10,615.80 78.30,615.80 78.50,615.80 78.58,615.80 78.62,642.70 78.70,642.70 78.90,642.70 79.10,642.70 79.30,642.70 79.50,642.70 79.58,642.70 79.62,747.13 79.70,747.92 79.90,746.69 80.10,745.45 80.30,744.22 80.50,745.77 80.70,747.31 80.90,748.86 81.10,746.67 81.30,744.47 81.50,742.28 81.70,744.97 81.90,747.66 82.10,750.36 82.30,747.12 82.50,743.88 82.70,740.65 82.88,742.68 82.90,695.00 82.92,695.00 83.10,695.00 83.30,695.00 83.50,695.00 83.70,695.00 83.90,695.00 84.10,695.00 84.28,695.00 84.30,656.50 84.32,656.50 84.50,656.50 84.70,656.50 84.90,656.50 85.08,656.50 85.10,656.50 85.12,695.00 85.30,695.00 85.50,695.00 85.70,695.00 85.90,695.00 86.10,695.00 86.28,695.00 86.30,695.00 86.32,741.40 86.50,744.25 86.70,747.42 86.90,750.59 87.10,748.49 87.30,746.39 87.50,744.29 87.70,745.42 87.90,746.55 88.10,747.68 88.30,745.82 88.50,743.96 88.70,742.09 88.90,744.74 89.08,747.13 89.10,747.39 89.12,703.70 89.30,703.70 89.50,703.70 89.68,703.70 89.70,703.70 89.72,703.70 89.90,703.70 90.10,703.70 90.28,703.70 90.30,703.70 90.32,723.50 90.50,723.50 90.70,723.50 90.90,723.50 91.10,723.50 91.30,723.50 91.50,723.50 91.70,723.50 91.90,723.50 92.10,723.50 92.30,723.50 92.38,723.50 92.42,743.68 92.50,744.48 92.70,746.49 92.90,748.50 93.10,746.60 93.30,744.70 93.50,742.81 93.70,744.17 93.90,745.54 94.10,746.90 94.30,743.94 94.50,740.98 94.70,738.02 94.90,741.09 95.10,744.16 95.30,747.22 95.50,745.21 95.70,743.20 95.90,741.18 96.10,743.60 96.30,746.01 96.50,748.43 96.70,747.42 96.90,746.41 96.98,746.00 97.02,730.50 97.10,730.50 97.30,730.50 97.50,730.50 97.70,730.50 97.78,730.50 97.82,747.85 97.90,747.04 98.10,745.03 98.30,743.02 98.50,745.12 98.70,747.21 98.90,749.30 99.10,746.40 99.30,743.49 99.50,740.59 99.58,741.45 99.62,730.50 99.70,730.50 99.90,730.50 100.10,730.50 100.30,730.50 100.38,730.50 100.42,744.56 100.50,743.96 100.70,742.44 100.90,744.49 101.10,746.55 101.30,748.61 101.50,747.14 101.70,745.67 101.90,744.20 102.10,745.40 102.30,746.61 102.50,747.82 102.70,745.63 102.90,743.45 103.10,741.27 103.30,743.56 103.50,745.85 103.70,748.15 103.90,745.41 104.10,742.66 104.30,739.92 104.50,743.37 104.70,746.83 104.90,750.28 105.10,746.74 105.30,743.21 105.50,739.67 105.70,742.22 105.90,744.76 106.10,747.31 106.30,746.15 106.50,745.00 106.70,743.85 106.90,744.95 107.08,745.94 107.10,735.00 107.12,735.00 107.30,735.00 107.50,735.00 107.70,735.00 107.88,735.00 107.90,735.00 107.92,741.58 108.10,744.32 108.30,747.36 108.50,750.41 108.70,746.63 108.90,742.85 109.10,739.07 109.30,741.95 109.50,744.83 109.70,747.71 109.78,747.06 109.82,732.50 109.90,732.50 110.10,732.50 110.30,732.50 110.50,732.50 110.58,732.50 110.62,745.38 110.70,746.02 110.90,747.63 111.10,745.93 111.30,744.24 111.50,742.55 111.70,744.82 111.90,747.09 112.10,749.36 112.30,746.21 112.50,743.06 112.70,739.92 112.90,743.18 113.10,746.44 113.30,749.70 113.50,746.20 113.70,742.69 113.90,739.19 114.10,742.21 114.30,745.24 114.50,748.27 114.70,747.11 114.90,745.95 115.10,744.79 115.30,745.94 115.50,747.09 115.70,748.24 115.90,745.93 116.10,743.63 116.30,741.33 116.50,743.61 116.70,745.89 116.90,748.16 117.10,746.77 117.30,745.37 117.50,743.98 117.70,745.99 117.90,748.00 118.10,750.02 118.30,748.16 118.50,746.31 118.58,745.57 118.62,737.00 118.70,737.00 118.90,737.00 119.10,737.00 119.30,737.00 119.38,737.00 119.42,747.08 119.50,746.67 119.70,745.64 119.90,744.62 120.10,745.85 120.30,747.08 120.50,748.31 120.70,746.21 120.90,744.10 121.10,741.99 121.30,743.94 121.50,745.89 121.70,747.85 121.90,745.56 122.10,743.27 122.30,740.99 122.50,742.20 122.70,743.41 122.90,744.61 123.10,744.49 123.30,744.36 123.50,744.23 123.70,745.97 123.88,747.53 123.90,739.00 123.92,739.00 124.10,739.00 124.30,739.00 124.50,739.00 124.68,739.00 124.70,739.00 124.72,742.07 124.90,744.46 125.10,747.12 125.30,749.78 125.50,747.00 125.70,744.23 125.90,741.46 126.10,743.01 126.30,744.56 126.50,746.11 126.70,744.11 126.90,742.10 127.10,740.09 127.30,742.90 127.50,745.70 127.70,748.51 127.90,747.50 128.10,746.49 128.30,745.47 128.50,746.77 128.70,748.06 128.90,749.35 129.10,746.39 129.30,743.43 129.50,740.47 129.70,743.22 129.90,745.97 130.10,748.72 130.30,747.08 130.50,745.44 130.70,743.80 130.90,745.79 131.10,747.78 131.28,749.57 131.30,735.20 131.32,735.20 131.50,735.20 131.70,735.20 131.90,735.20 132.08,735.20 132.10,735.20 132.12,747.10 132.30,748.37 132.50,749.78 132.70,746.79 132.90,743.80 133.10,740.81 133.30,744.19 133.50,747.57 133.70,750.95 133.90,749.09 134.10,747.23 134.30,745.37 134.50,746.29 134.70,747.22 134.90,748.14 135.10,746.17 135.30,744.20 135.50,742.23 135.70,744.57 135.90,746.91 136.10,749.25 136.30,747.83 136.50,746.41 136.70,744.98 136.90,745.83 137.10,746.68 137.30,747.53 137.50,745.40 137.70,743.27 137.90,741.14 138.10,743.68 138.30,746.23 138.50,748.77 138.70,747.79 138.90,746.81 139.10,745.83 139.30,747.39 139.50,748.95 139.70,750.50 139.90,747.60 140.08,744.99 140.10,738.50 140.12,738.50 140.30,738.50 140.50,738.50 140.70,738.50 140.88,738.50 140.90,738.50 140.92,747.77 141.10,746.04 141.30,744.11 141.50,742.18 141.70,744.86 141.90,747.54 142.10,750.22 142.30,747.35 142.50,744.48 142.70,741.61 142.90,744.29 143.10,746.97 143.30,749.65 143.50,747.99 143.70,746.33 143.90,744.67 144.10,746.14 144.30,747.60 144.50,749.07 144.70,746.70 144.90,744.34 145.10,741.98 145.30,744.22 145.50,746.47 145.70,748.72 145.90,747.05 146.08,745.55 146.10,735.00 146.12,735.00 146.30,735.00 146.50,735.00 146.70,735.00 146.88,735.00 146.90,726.40 146.92,726.40 147.10,726.40 147.30,726.40 147.50,726.40 147.68,726.40 147.70,726.40 147.72,735.00 147.90,735.00 148.10,735.00 148.30,735.00 148.48,735.00 148.50,735.00 148.52,746.09 148.70,744.16 148.90,746.36 149.10,748.57 149.30,750.77 149.50,748.41 149.70,746.06 149.90,743.70 150.10,745.54 150.30,747.38 150.50,749.22 150.70,747.30 150.90,745.38 151.10,743.47 151.30,745.20 151.50,746.93 151.70,748.66 151.90,748.19 152.10,747.71 152.30,747.24 152.50,748.41 152.70,749.58 152.90,750.75 153.10,749.28 153.30,747.81 153.50,746.34 153.70,747.35 153.90,748.36 154.10,749.37 154.30,747.67 154.50,745.97 154.70,744.27 154.88,745.93 154.90,742.00 154.92,742.00 155.10,742.00 155.30,742.00 155.50,742.00 155.68,742.00 155.70,742.00 155.72,748.18 155.90,747.47 156.10,748.40 156.30,749.33 156.50,750.26 156.70,748.75 156.90,747.23 157.10,745.71 157.30,746.99 157.50,748.28 157.70,749.56 157.90,749.22 158.10,748.88 158.30,748.53 158.50,748.85 158.70,749.16 158.90,749.47 159.10,749.10 159.30,748.74 159.50,748.37 159.70,748.68 159.90,748.98 160.10,749.29 160.30,749.03 160.50,748.77 160.70,748.51 160.90,749.39 161.10,750.26 161.30,751.13 161.50,749.64 161.70,748.15 161.90,746.66 162.10,746.65 162.30,746.65 162.50,746.64 162.70,746.69 162.90,746.75 163.10,746.80 163.30,748.18 163.50,749.57 163.70,750.95 163.90,749.22 164.10,747.49 164.30,745.77 164.50,747.38 164.70,748.99 164.90,750.61 165.10,749.27 165.30,747.94 165.50,746.61 165.70,747.80 165.90,748.99 166.10,750.18 166.30,748.99 166.50,747.80 166.70,746.61 166.90,747.56 167.10,748.52 167.30,749.48 167.50,749.21 167.70,748.95 167.90,748.69 168.10,749.34 168.30,750.00 168.50,750.65 168.70,749.65 168.90,748.64 169.10,747.64 169.30,748.44 169.50,749.25 169.70,750.06 169.90,749.56 170.10,749.06 170.30,748.55 170.50,749.21 170.70,749.86 170.90,750.51 171.10,749.43 171.30,748.34 171.50,747.25 171.70,748.24 171.90,749.23 172.10,750.22 172.30,748.77 172.50,747.33 172.70,745.88 172.90,747.43 173.10,748.98 173.30,750.53 173.50,749.09 173.58,748.52 173.62,741.50 173.70,741.50 173.90,741.50 174.10,741.50 174.30,741.50 174.38,741.50 174.42,749.51 174.50,750.02 174.70,749.59 174.90,749.16 175.10,748.73 175.30,749.52 175.50,750.32 175.70,751.11 175.90,750.30 176.10,749.48 176.30,748.67 176.50,749.20 176.70,749.72 176.90,750.25 177.10,748.95 177.30,747.64 177.50,746.34 177.70,747.97 177.90,749.60 178.10,751.23 178.30,749.66 178.50,748.09 178.70,746.51 178.90,748.01 179.10,749.50 179.30,750.99 179.50,749.63 179.70,748.27 179.90,746.91 180.10,747.81 180.30,748.71 180.50,749.62 180.70,748.48 180.90,747.34 181.10,746.20 181.30,747.25 181.50,748.30 181.70,749.35 181.90,748.26 182.10,747.16 182.30,746.07 182.50,747.46 182.70,748.86 182.90,750.26 183.10,748.79 183.30,747.32 183.50,745.86 183.70,746.94 183.90,748.03 184.10,749.12 184.30,748.75 184.50,748.38 184.70,748.01 184.90,748.63 185.10,749.26 185.30,749.88 185.50,748.59 185.70,747.30 185.90,746.01 186.10,747.67 186.30,749.32 186.50,750.98 186.70,749.50 186.90,748.03 187.10,746.55 187.30,747.62 187.50,748.69 187.70,749.76 187.90,748.53 188.10,747.31 188.30,746.08 188.50,747.80 188.70,749.52 188.90,751.25 189.10,749.47 189.30,747.69 189.50,745.91 189.70,747.21 189.90,748.51 190.10,749.81 190.30,749.33 190.50,748.86 190.70,748.39 190.90,748.89 191.10,749.39 191.30,749.88 191.50,747.86 191.70,745.85 191.90,743.83 192.10,745.76 192.30,747.70 192.50,749.63 192.70,749.07 192.90,748.51 193.10,747.96 193.30,748.95 193.50,749.94 193.70,750.94 193.90,749.29 194.10,747.65 194.30,746.01 194.50,747.65 194.70,749.30 194.90,750.94 195.10,750.17 195.30,749.41 195.50,748.64 195.70,749.25 195.90,749.85 196.10,750.46 196.30,749.53 196.50,748.60 196.70,747.66 196.90,748.45 197.10,749.23 197.30,750.01 197.50,749.53 197.70,749.06 197.90,748.58 198.10,749.33 198.30,750.07 198.50,750.82 198.70,749.83 198.90,748.83 199.10,747.84 199.30,748.90 199.50,749.95 199.70,751.01 199.90,750.15 200.10,749.29 200.30,748.43 200.50,749.03 200.70,749.64 200.90,750.25 201.10,748.98 201.30,747.72 201.50,746.46 201.70,747.47 201.90,748.49 202.10,749.50 202.30,748.84 202.50,748.18 202.70,747.52 202.90,748.39 203.10,749.26 203.30,750.13 203.50,749.02 203.70,747.91 203.90,746.81 204.10,748.16 204.30,749.52 204.50,750.88 204.70,749.75 204.90,748.62 205.10,747.48 205.30,748.39 205.50,749.29 205.70,750.20 205.90,749.31 206.10,748.42 206.30,747.53 206.50,748.40 206.70,749.26 206.90,750.13 207.10,749.03 207.30,747.93 207.50,746.83 207.70,747.73 207.90,748.62 208.10,749.51 208.30,748.88 208.50,748.24 208.70,747.61 208.90,748.24 209.10,748.87 209.30,749.49 209.50,748.37 209.70,747.25 209.90,746.13 210.10,747.71 210.30,749.28 210.50,750.86 210.70,749.54 210.90,748.22 211.10,746.90 211.30,748.09 211.50,749.29 211.70,750.48 211.90,749.05 212.10,747.61 212.30,746.18 212.50,747.73 212.70,749.29 212.90,750.84 213.10,749.39 213.30,747.93 213.50,746.48 213.70,747.58 213.90,748.67 214.10,749.77 214.30,748.83 214.50,747.89 214.70,746.95 214.90,748.29 215.10,749.63 215.30,750.97 215.50,750.15 215.70,749.33 215.90,748.51 216.10,749.24 216.30,749.97 216.50,750.70 216.70,749.17 216.90,747.64 217.10,746.11 217.30,747.83 217.50,749.55 217.70,751.26 217.90,750.22 218.10,749.18 218.30,748.13 218.50,748.56 218.70,748.99 218.90,749.41 219.10,749.06 219.30,748.71 219.50,748.35 219.70,749.17 219.90,749.99 220.10,750.81 220.30,749.33 220.50,747.85 220.70,746.37 220.90,747.90 221.10,749.43 221.30,750.96 221.50,750.11 221.70,749.26 221.90,748.41 222.10,749.36 222.30,750.31 222.50,751.26 222.70,748.98 222.90,746.71 223.10,744.44 223.30,746.20 223.50,747.96 223.58,748.66 223.62,711.20 223.70,711.20 223.90,711.20 224.10,711.20 224.30,711.20 224.50,711.20 224.68,711.20 224.70,711.20 224.72,731.30 224.90,731.30 225.10,731.30 225.30,731.30 225.50,731.30 225.70,731.30 225.90,731.30 226.10,731.30 226.18,731.30 226.22,749.01 226.30,748.50 226.50,747.22 226.70,745.95 226.90,747.18 227.10,748.41 227.30,749.65 227.50,749.34 227.70,749.04 227.90,748.74 228.10,749.12 228.30,749.50 228.50,749.88 228.70,749.47 228.90,749.07 229.10,748.66 229.30,748.95 229.50,749.25 229.70,749.55 229.90,748.02 230.10,746.48 230.30,744.95 230.50,746.96 230.70,748.96 230.90,750.97 231.10,749.78 231.30,748.60 231.50,747.41 231.70,748.30 231.90,749.20 232.10,750.09 232.30,749.33 232.50,748.56 232.70,747.79 232.90,748.46 233.10,749.13 233.30,749.79 233.50,748.97 233.70,748.15 233.90,747.33 234.10,748.25 234.30,749.18 234.50,750.10 234.70,749.29 234.90,748.47 235.10,747.65 235.30,748.42 235.50,749.18 235.70,749.94 235.90,749.48 236.10,749.02 236.30,748.56 236.50,749.16 236.70,749.76 236.90,750.36 237.10,749.79 237.30,749.23 237.50,748.66 237.70,749.27 237.90,749.89 238.10,750.50 238.30,748.97 238.50,747.44 238.70,745.90 238.90,747.35 239.10,748.80 239.30,750.25 239.50,749.66 239.70,749.06 239.90,748.47 240.10,749.16 240.30,749.84 240.50,750.53 240.70,749.66 240.90,748.79 241.10,747.93 241.30,748.57 241.50,749.20 241.70,749.84 241.90,748.63 242.10,747.43 242.30,746.22 242.50,747.92 242.70,749.62 242.90,751.32 243.10,749.88 243.30,748.44 243.50,746.99 243.70,747.52 243.90,748.05 244.10,748.58 244.30,747.75 244.50,746.92 244.70,746.08 244.90,747.35 245.10,748.61 245.30,749.88 245.50,749.40 245.70,748.92 245.90,748.44 246.10,748.80 246.30,749.15 246.50,749.50 246.70,748.76 246.90,748.01 247.10,747.27 247.30,748.62 247.50,749.96 247.70,751.31 247.90,750.31 248.10,749.30 248.30,748.30 248.50,748.65 248.70,749.00 248.90,749.36 249.10,747.79 249.30,746.22 249.50,744.65 249.70,746.61 249.90,748.58 250.10,750.54 250.30,749.77 250.50,749.00 250.70,748.23 250.90,749.00 251.10,749.76 251.30,750.53 251.50,749.78 251.70,749.04 251.90,748.29 252.10,749.16 252.30,750.04 252.50,750.91 252.70,748.83 252.90,746.74 253.10,744.66 253.30,745.08 253.50,745.51 253.70,745.93 253.90,746.62 254.10,747.31 254.30,748.00 254.50,748.79 254.70,749.59 254.90,750.38 255.10,749.54 255.30,748.70 255.50,747.86 255.70,748.68 255.90,749.50 256.10,750.31 256.30,749.47 256.50,748.63 256.70,747.79 256.90,748.91 257.10,750.03 257.30,751.14 257.50,749.80 257.70,748.46 257.90,747.11 258.10,748.24 258.30,749.37 258.50,750.49 258.70,749.46 258.90,748.43 259.10,747.41 259.30,748.42 259.50,749.43 259.70,750.44 259.90,748.93 260.10,747.42 260.30,745.92 260.50,747.25 260.70,748.57 260.90,749.90 261.10,749.05 261.30,748.19 261.50,747.33 261.70,748.30 261.90,749.27 262.10,750.23 262.30,749.00 262.50,747.77 262.70,746.53 262.90,747.66 263.10,748.78 263.30,749.91 263.50,749.11 263.70,748.31 263.90,747.51 264.10,748.56 264.30,749.61 264.50,750.66 264.70,749.59 264.90,748.53 265.10,747.46 265.30,748.76 265.50,750.06 265.70,751.36 265.90,750.16 266.10,748.96 266.30,747.76 266.50,748.43 266.70,749.09 266.90,749.76 267.10,748.69 267.30,747.62 267.50,746.56 267.70,747.15 267.90,747.75 268.10,748.35 268.30,747.74 268.50,747.12 268.70,746.51 268.90,747.72 269.10,748.94 269.30,750.15 269.50,749.32 269.70,748.50 269.90,747.68 270.10,748.46 270.30,749.24 270.50,750.02 270.70,748.71 270.90,747.39 271.10,746.08 271.30,747.29 271.50,748.50 271.70,749.71 271.90,748.69 272.10,747.66 272.30,746.64 272.50,747.94 272.70,749.24 272.90,750.53 273.10,749.87 273.30,749.20 273.50,748.53 273.70,749.04 273.90,749.54 274.10,750.05 274.30,749.54 274.50,749.04 274.70,748.54 274.90,749.44" fill="none" stroke="#141414" stroke-width="1.4" stroke-linejoin="miter" stroke-miterlimit="2"/>
<rect x="83.2" y="695" width="2.80" height="17.50" fill="#1a1a1a"/>
<rect x="89.0" y="703.7" width="1.60" height="19.80" fill="#1a1a1a"/>
<rect x="70.7" y="724.6" width="2.60" height="17.40" fill="#1a1a1a"/>
<rect x="60.7" y="720.8" width="1.60" height="12.20" fill="#1a1a1a"/>
<polyline points="334.30,756.82 334.50,756.88 334.70,756.94 334.90,757.01 335.10,757.00 335.13,757.00 335.17,748.84 335.30,748.84 335.50,748.84 335.61,748.84 335.64,734.60 335.70,734.60 335.90,734.60 335.95,734.60 336.00,748.84 336.10,748.84 336.30,748.84 336.43,748.84 336.47,755.91 336.50,755.87 336.70,755.58 336.90,755.96 337.10,756.33 337.30,756.71 337.50,757.19 337.70,757.66 337.90,758.14 338.10,758.19 338.30,758.25 338.50,758.30 338.70,757.67 338.90,757.05 339.03,756.64 339.07,752.34 339.10,752.34 339.30,752.34 339.50,752.34 339.50,752.34 339.55,744.60 339.70,744.60 339.86,744.60 339.89,752.34 339.90,752.34 340.10,752.34 340.30,752.34 340.33,752.34 340.37,755.87 340.50,756.33 340.70,757.02 340.90,757.72 341.10,757.25 341.30,756.78 341.50,756.31 341.70,756.35 341.90,756.39 342.10,756.43 342.30,756.53 342.50,756.64 342.70,756.74 342.90,757.08 343.10,757.43 343.30,757.77 343.50,756.06 343.53,755.81 343.57,725.95 343.70,725.95 343.90,725.95 344.00,725.95 344.05,669.20 344.10,669.20 344.30,669.20 344.36,669.20 344.39,725.95 344.50,725.95 344.70,725.95 344.83,725.95 344.87,757.76 344.90,757.71 345.10,757.35 345.30,756.92 345.50,756.49 345.70,756.05 345.90,755.48 346.10,754.90 346.30,754.33 346.50,754.45 346.70,754.57 346.90,754.69 347.10,755.54 347.30,756.38 347.50,757.23 347.70,757.21 347.90,757.19 348.10,757.17 348.30,757.14 348.50,757.12 348.70,757.09 348.90,756.95 349.10,756.81 349.30,756.67 349.33,756.66 349.37,747.23 349.50,747.23 349.70,747.23 349.81,747.23 349.85,730.00 349.90,730.00 350.10,730.00 350.15,730.00 350.19,747.23 350.30,747.23 350.50,747.23 350.63,747.23 350.67,757.08 350.70,757.13 350.90,757.47 351.10,757.80 351.30,757.41 351.50,757.01 351.70,756.61 351.90,757.35 351.93,757.46 351.97,749.75 352.10,749.75 352.30,749.75 352.40,749.75 352.44,737.20 352.50,737.20 352.70,737.20 352.75,737.20 352.80,749.75 352.90,749.75 353.10,749.75 353.23,749.75 353.27,756.86 353.30,756.79 353.50,756.29 353.70,756.13 353.90,755.97 354.10,755.81 354.30,755.72 354.50,755.62 354.70,755.52 354.90,756.58 355.10,757.64 355.30,758.70 355.50,758.43 355.53,758.39 355.57,753.70 355.70,753.70 355.90,753.70 356.00,753.70 356.05,748.50 356.10,748.50 356.30,748.50 356.36,748.50 356.39,753.70 356.50,753.70 356.70,753.70 356.83,753.70 356.87,757.88 356.90,757.86 357.10,757.71 357.30,756.47 357.50,755.24 357.70,754.00 357.90,755.56 358.10,757.13 358.30,758.69 358.50,757.79 358.70,756.89 358.90,755.99 359.10,755.86 359.30,755.73 359.50,755.61 359.70,756.41 359.90,757.22 360.10,758.02 360.13,757.86 360.17,730.36 360.30,730.36 360.50,730.36 360.61,730.36 360.64,681.80 360.70,681.80 360.90,681.80 360.95,681.80 361.00,730.36 361.10,730.36 361.30,730.36 361.43,730.36 361.47,757.64 361.50,757.61 361.70,757.42 361.90,757.22 362.10,756.89 362.30,756.55 362.50,756.22 362.70,756.09 362.90,755.96 363.10,755.84 363.30,756.22 363.50,756.60 363.70,756.98 363.90,756.75 364.10,756.52 364.30,756.29 364.50,757.03 364.70,757.78 364.90,758.52 365.10,757.76 365.30,757.00 365.50,756.24 365.70,756.75 365.90,757.27 365.93,757.35 365.97,749.12 366.10,749.12 366.30,749.12 366.40,749.12 366.44,735.40 366.50,735.40 366.70,735.40 366.75,735.40 366.80,749.12 366.90,749.12 367.10,749.12 367.23,749.12 367.27,755.86 367.30,755.72 367.50,755.97 367.70,756.22 367.90,756.48 368.10,756.22 368.30,755.97 368.50,755.71 368.53,755.75 368.57,750.83 368.70,750.83 368.90,750.83 369.00,750.83 369.05,740.30 369.10,740.30 369.30,740.30 369.36,740.30 369.39,750.83 369.50,750.83 369.70,750.83 369.83,750.83 369.87,757.36 369.90,757.37 370.10,757.44 370.30,757.50 370.50,756.54 370.70,755.58 370.90,754.62 371.10,755.67 371.30,756.72 371.50,757.77 371.63,757.50 371.67,752.89 371.70,752.89 371.90,752.89 372.10,752.89 372.11,752.89 372.14,746.20 372.30,746.20 372.45,746.20 372.50,752.89 372.50,752.89 372.70,752.89 372.90,752.89 372.93,752.89 372.97,757.06 373.10,756.49 373.30,755.61 373.50,755.75 373.70,755.89 373.90,756.03 374.10,756.29 374.30,756.56 374.50,756.83 374.70,756.62 374.90,756.41 375.10,756.20 375.30,756.78 375.50,757.36 375.70,757.93 375.90,757.35 375.93,757.27 375.97,735.92 376.10,735.92 376.30,735.92 376.40,735.92 376.44,697.70 376.50,697.70 376.70,697.70 376.75,697.70 376.80,735.92 376.90,735.92 377.10,735.92 377.23,735.92 377.27,754.92 377.30,754.99 377.50,755.49 377.70,755.64 377.90,755.78 378.10,755.93 378.30,756.56 378.50,757.20 378.70,757.83 378.90,757.61 379.10,757.39 379.30,757.17 379.50,757.58 379.70,757.99 379.90,758.40 380.10,758.14 380.30,757.89 380.50,757.64 380.70,757.96 380.90,758.28 381.10,758.61 381.30,758.26 381.50,757.91 381.70,757.55 381.90,757.43 382.10,757.31 382.30,757.19 382.43,757.24 382.47,721.75 382.50,721.75 382.70,721.75 382.90,721.75 382.90,721.75 382.94,657.20 383.10,657.20 383.25,657.20 383.30,721.75 383.30,721.75 383.50,721.75 383.70,721.75 383.73,721.75 383.77,758.20 383.90,758.34 384.10,758.57 384.30,757.53 384.50,756.50 384.70,755.47 384.90,756.30 385.10,757.12 385.30,757.95 385.50,758.04 385.70,758.14 385.90,758.24 386.10,757.47 386.30,756.70 386.50,755.93 386.70,756.46 386.90,757.00 387.10,757.53 387.30,756.95 387.50,756.37 387.58,756.14 387.62,711.50 387.70,711.50 387.90,711.50 388.10,711.50 388.30,711.50 388.48,711.50 388.50,602.70 388.52,602.70 388.70,602.70 388.90,602.70 389.08,602.70 389.10,602.70 389.12,711.50 389.30,711.50 389.50,711.50 389.70,711.50 389.90,711.50 389.98,711.50 390.02,755.86 390.10,755.90 390.30,756.64 390.50,757.37 390.70,758.10 390.90,757.68 391.10,757.26 391.30,756.83 391.50,756.48 391.70,756.13 391.90,755.77 392.10,756.12 392.30,756.46 392.43,756.68 392.47,742.12 392.50,742.12 392.70,742.12 392.90,742.12 392.90,742.12 392.94,715.40 393.10,715.40 393.25,715.40 393.30,742.12 393.30,742.12 393.50,742.12 393.70,742.12 393.73,742.12 393.77,757.67 393.90,757.12 394.10,756.27 394.30,755.42 394.50,755.49 394.70,755.57 394.90,755.64 395.10,756.03 395.30,756.41 395.50,756.80 395.70,757.01 395.83,757.15 395.87,747.75 395.90,747.75 396.10,747.75 396.30,747.75 396.31,747.75 396.35,731.50 396.50,731.50 396.65,731.50 396.69,747.75 396.70,747.75 396.90,747.75 397.10,747.75 397.13,747.75 397.17,756.03 397.30,755.50 397.50,755.86 397.70,756.22 397.90,756.57 398.10,756.65 398.23,756.70 398.27,752.34 398.30,752.34 398.50,752.34 398.70,752.34 398.70,752.34 398.75,744.60 398.90,744.60 399.06,744.60 399.10,752.34 399.10,752.34 399.30,752.34 399.50,752.34 399.53,752.34 399.57,756.53 399.70,756.74 399.90,756.80 400.10,756.85 400.30,756.91 400.50,756.56 400.70,756.22 400.90,755.87 401.10,755.91 401.30,755.94 401.50,755.98 401.70,756.01 401.90,756.05 402.10,756.08 402.30,756.54 402.50,757.00 402.70,757.45 402.90,757.24 403.10,757.02 403.30,756.80 403.50,756.43 403.70,756.06 403.90,755.69 404.10,756.17 404.30,756.65 404.50,757.14 404.70,757.58 404.90,758.03 405.10,758.48 405.30,758.12 405.50,757.77 405.70,757.41 405.90,757.11 406.10,756.81 406.30,756.51 406.50,756.63 406.70,756.75 406.90,756.87 407.10,757.04 407.30,757.21 407.50,757.37 407.70,756.90 407.90,756.42 408.10,755.94 408.30,756.69 408.50,757.44 408.53,757.55 408.57,747.82 408.70,747.82 408.90,747.82 409.00,747.82 409.05,731.70 409.10,731.70 409.30,731.70 409.36,731.70 409.39,747.82 409.50,747.82 409.70,747.82 409.83,747.82 409.87,758.13 409.90,758.21 410.10,756.93 410.30,755.65 410.50,754.37 410.70,755.59 410.90,756.82 411.10,758.04 411.30,757.55 411.50,757.06 411.70,756.57 411.90,757.11 412.10,757.65 412.30,758.19 412.50,757.41 412.70,756.63 412.90,755.86 413.10,756.58 413.30,757.30 413.50,758.02 413.70,758.08 413.90,758.13 414.10,758.18 414.30,758.08 414.50,757.98 414.70,757.89 414.73,757.90 414.77,754.58 414.90,754.58 415.10,754.58 415.20,754.58 415.25,751.00 415.30,751.00 415.50,751.00 415.56,751.00 415.60,754.58 415.70,754.58 415.90,754.58 416.03,754.58 416.07,755.86 416.10,755.87 416.30,755.93 416.50,756.00 416.70,756.73 416.90,757.45 417.10,758.18 417.30,758.16 417.50,758.13 417.70,758.11 417.90,757.97 418.10,757.84 418.30,757.71 418.50,757.76 418.70,757.81 418.90,757.86 419.10,757.86 419.30,757.86 419.50,757.86 419.70,757.43 419.90,757.00 420.10,756.57 420.30,756.66 420.50,756.74 420.70,756.82 420.90,757.10 421.10,757.38 421.30,757.66 421.50,757.20 421.70,756.74 421.90,756.28 422.10,756.14 422.30,756.01 422.50,755.87 422.70,755.71 422.90,755.54 423.10,755.38 423.30,756.12 423.50,756.87 423.70,757.62 423.90,757.09 424.10,756.56 424.30,756.03 424.50,756.15 424.70,756.28 424.73,756.29 424.77,751.39 424.90,751.39 425.10,751.39 425.20,751.39 425.25,741.90 425.30,741.90 425.50,741.90 425.56,741.90 425.60,751.39 425.70,751.39 425.90,751.39 426.03,751.39 426.07,756.07 426.10,756.06 426.30,756.36 426.50,756.66 426.70,756.97 426.90,757.07 427.10,757.18 427.30,757.28 427.50,756.96 427.70,756.63 427.90,756.31 428.10,756.45 428.30,756.59 428.50,756.72 428.70,757.21 428.90,757.69 429.10,758.17 429.30,757.90 429.50,757.63 429.70,757.36 429.90,757.60 430.10,757.83 430.30,758.06 430.50,757.82 430.70,757.57 430.90,757.33 431.10,757.02 431.30,756.71 431.50,756.40 431.70,756.94 431.90,757.48 432.10,758.02 432.30,757.54 432.50,757.06 432.70,756.58 432.90,756.96 433.10,757.33 433.30,757.71 433.50,757.33 433.70,756.95 433.90,756.57 434.10,756.71 434.30,756.85 434.50,756.99 434.70,757.41 434.90,757.82 435.10,758.23 435.30,757.74 435.50,757.25 435.70,756.76 435.90,756.85 436.10,756.95 436.30,757.05 436.50,757.00 436.70,756.94 436.90,756.88 437.10,756.72 437.30,756.55 437.50,756.38 437.70,756.98 437.90,757.59 438.10,758.19 438.30,757.47 438.50,756.76 438.70,756.05 438.90,756.20 439.10,756.35 439.30,756.51 439.50,756.77 439.70,757.03 439.90,757.30 440.10,756.97 440.30,756.65 440.50,756.33 440.63,756.20 440.67,753.21 440.70,753.21 440.90,753.21 441.10,753.21 441.11,753.21 441.14,747.10 441.30,747.10 441.45,747.10 441.50,753.21 441.50,753.21 441.70,753.21 441.90,753.21 441.93,753.21 441.97,757.15 442.10,756.78 442.30,756.22 442.50,756.41 442.70,756.60 442.90,756.79 443.10,756.60 443.30,756.42 443.50,756.24 443.70,756.57 443.90,756.90 444.10,757.22 444.30,756.83 444.50,756.44 444.70,756.04 444.90,756.67 445.10,757.30 445.30,757.93 445.50,757.39 445.70,756.84 445.90,756.29 446.10,756.32 446.30,756.35 446.50,756.38 446.70,756.92 446.90,757.45 447.10,757.99 447.30,757.48 447.43,757.16 447.47,742.64 447.50,742.64 447.70,742.64 447.90,742.64 447.90,742.64 447.94,716.90 448.10,716.90 448.25,716.90 448.30,742.64 448.30,742.64 448.50,742.64 448.70,742.64 448.73,742.64 448.77,755.66 448.90,756.06 449.10,756.62 449.30,757.19 449.50,757.76 449.70,756.29 449.90,754.83 450.10,753.36 450.30,754.34 450.50,755.32 450.70,756.30 450.90,756.53 451.10,756.76 451.30,756.98 451.50,756.89 451.70,756.80 451.90,756.71 452.10,756.38 452.30,756.05 452.50,755.72 452.70,756.26 452.90,756.80 453.10,757.34 453.30,757.14 453.50,756.95 453.70,756.75 453.90,757.21 454.10,757.66 454.30,758.12 454.50,758.05 454.70,757.97 454.90,757.89 455.10,757.90 455.30,757.90 455.50,757.90 455.70,757.24 455.90,756.57 456.10,755.90 456.30,756.61 456.50,757.33 456.70,758.04 456.90,757.86 457.03,757.75 457.07,754.92 457.10,754.92 457.30,754.92 457.50,754.92 457.50,754.92 457.55,752.00 457.70,752.00 457.86,752.00 457.89,754.92 457.90,754.92 458.10,754.92 458.30,754.92 458.33,754.92 458.37,756.46 458.50,756.06 458.70,756.54 458.90,757.01 459.10,757.49 459.30,757.32 459.50,757.15 459.70,756.98 459.90,756.89 460.10,756.80 460.30,756.71 460.50,756.44 460.70,756.17 460.90,755.89 461.10,756.48 461.30,757.06 461.50,757.65 461.70,757.29 461.90,756.94 462.10,756.58 462.30,756.95 462.50,757.31 462.70,757.67 462.90,757.79 463.10,757.91 463.30,758.03 463.50,757.28 463.70,756.53 463.90,755.78 464.10,755.81 464.30,755.83 464.50,755.86 464.70,755.91 464.90,755.97 465.10,756.03 465.30,755.93 465.50,755.82 465.70,755.72 465.90,755.95 466.10,756.17 466.30,756.40 466.50,756.29 466.70,756.19 466.90,756.08 467.10,756.45 467.30,756.82 467.50,757.20 467.70,757.48 467.90,757.76 468.10,758.04 468.30,757.69 468.50,757.34 468.70,756.98 468.90,756.78 469.10,756.58 469.30,756.38 469.50,756.42 469.70,756.45 469.90,756.49 470.10,756.55 470.30,756.61 470.50,756.67 470.70,756.44 470.90,756.21 471.10,755.98 471.30,756.63 471.50,757.28 471.70,757.93 471.90,757.52 472.10,757.12 472.30,756.71 472.50,756.88 472.70,757.05 472.90,757.22 473.10,756.34 473.30,755.45 473.50,754.57 473.70,755.36 473.90,756.16 474.10,756.95 474.30,756.93 474.50,756.92 474.70,756.90 474.90,757.02 475.10,757.14 475.30,757.26 475.50,756.58 475.70,755.91 475.90,755.24 476.10,755.82 476.30,756.40 476.50,756.98 476.70,756.76 476.90,756.53 477.10,756.31 477.30,756.38 477.50,756.45 477.70,756.52 477.90,756.92 478.10,757.31 478.30,757.70 478.50,757.50 478.70,757.29 478.90,757.09 479.10,756.95 479.30,756.82 479.50,756.68 479.70,756.68 479.90,756.68 480.10,756.68 480.30,756.58 480.50,756.49 480.70,756.40 480.90,756.51 481.10,756.62 481.30,756.73 481.50,756.77 481.70,756.82 481.90,756.86 482.10,756.74 482.30,756.61 482.50,756.49 482.70,756.61 482.90,756.74 483.10,756.86 483.30,757.10 483.50,757.33 483.70,757.57 483.90,757.11 484.10,756.66 484.30,756.20 484.50,756.56 484.70,756.91 484.90,757.26 485.10,757.14 485.30,757.01 485.50,756.89 485.70,757.21 485.90,757.54 486.10,757.86 486.30,757.64 486.50,757.42 486.70,757.19 486.90,757.29 487.10,757.38 487.30,757.47 487.50,757.35 487.70,757.22 487.90,757.09 488.10,757.15 488.30,757.21 488.50,757.28 488.70,757.14 488.90,757.01 489.10,756.88 489.30,756.69 489.50,756.49 489.70,756.30 489.90,756.72 490.10,757.14 490.30,757.56 490.50,757.64 490.70,757.73 490.90,757.81 491.10,757.19 491.30,756.57 491.50,755.95 491.70,756.60 491.90,757.26 492.10,757.91 492.30,757.66 492.50,757.40 492.70,757.15 492.90,756.98 493.10,756.81 493.30,756.64" fill="none" stroke="#1a1a1a" stroke-width="1.15" stroke-linejoin="miter" stroke-miterlimit="2"/>
<polyline points="33.80,1005.61 34.00,1006.15 34.20,1006.70 34.40,1007.24 34.60,1007.79 34.80,1007.54 35.00,1007.29 35.20,1007.05 35.40,1006.80 35.60,1006.67 35.80,1006.53 36.00,1006.40 36.20,1006.26 36.40,1005.46 36.60,1004.67 36.80,1003.87 37.00,1003.07 37.20,1003.97 37.40,1004.86 37.60,1005.76 37.80,1006.66 38.00,1006.35 38.20,1006.04 38.40,1005.73 38.60,1005.42 38.80,1005.84 39.00,1006.27 39.20,1006.70 39.40,1007.12 39.60,1006.57 39.80,1006.01 40.00,1005.45 40.20,1004.89 40.40,1004.46 40.60,1004.03 40.80,1003.60 41.00,1003.17 41.20,1004.19 41.40,1005.20 41.60,1006.21 41.80,1007.22 42.00,1007.01 42.20,1006.79 42.40,1006.58 42.60,1006.36 42.80,1006.67 43.00,1006.98 43.03,1007.02 43.07,986.40 43.20,986.40 43.40,986.40 43.53,986.40 43.57,1001.50 43.60,1001.50 43.80,1001.50 44.00,1001.50 44.20,1001.50 44.40,1001.50 44.58,1001.50 44.60,1001.50 44.62,1005.75 44.80,1005.86 45.00,1005.98 45.20,1005.28 45.40,1004.58 45.60,1003.88 45.80,1003.18 46.00,1003.67 46.20,1004.15 46.40,1004.64 46.60,1005.13 46.80,1004.71 47.00,1004.29 47.20,1003.87 47.40,1003.45 47.60,1004.28 47.80,1005.12 48.00,1005.96 48.20,1006.79 48.40,1005.79 48.60,1004.80 48.80,1003.80 49.00,1002.80 49.20,1002.84 49.40,1002.88 49.60,1002.91 49.80,1002.95 50.00,1003.33 50.20,1003.70 50.40,1004.08 50.60,1004.45 50.78,1004.47 50.80,993.70 50.82,993.70 51.00,993.70 51.20,993.70 51.40,993.70 51.60,993.70 51.80,993.70 51.93,993.70 51.97,980.70 52.00,980.70 52.20,980.70 52.40,980.70 52.43,980.70 52.47,988.00 52.60,988.00 52.80,988.00 53.00,988.00 53.20,988.00 53.40,988.00 53.58,988.00 53.60,988.00 53.62,1005.29 53.80,1005.25 54.00,1004.92 54.20,1004.60 54.40,1004.27 54.60,1003.94 54.80,1003.84 55.00,1003.75 55.20,1003.65 55.40,1003.55 55.60,1004.00 55.80,1004.45 56.00,1004.90 56.20,1005.35 56.40,1004.81 56.60,1004.28 56.80,1003.74 57.00,1003.20 57.20,1004.18 57.40,1005.16 57.60,1006.14 57.80,1007.12 58.00,1006.39 58.20,1005.66 58.40,1004.92 58.60,1004.19 58.80,1004.49 59.00,1004.80 59.20,1005.10 59.40,1005.40 59.60,1004.69 59.80,1003.97 60.00,1003.26 60.20,1002.49 60.40,1002.86 60.60,1003.23 60.80,1003.60 61.00,1003.97 61.20,1003.82 61.40,1003.67 61.60,1003.52 61.78,1003.38 61.80,987.00 61.82,987.00 62.00,987.00 62.20,987.00 62.40,987.00 62.60,987.00 62.80,987.00 62.93,987.00 62.97,980.70 63.00,980.70 63.20,980.70 63.40,980.70 63.43,980.70 63.47,999.40 63.60,999.40 63.80,999.40 63.98,999.40 64.00,999.40 64.02,1003.69 64.20,1004.20 64.40,1004.29 64.60,1004.38 64.80,1004.47 65.00,1004.55 65.20,1004.56 65.40,1004.56 65.60,1004.56 65.80,1004.56 65.88,1004.47 65.92,902.30 66.00,902.30 66.20,902.30 66.40,902.30 66.60,902.30 66.80,902.30 67.00,902.30 67.20,902.30 67.40,902.30 67.60,902.30 67.78,902.30 67.80,879.50 67.82,879.50 68.00,879.50 68.20,879.50 68.40,879.50 68.60,879.50 68.80,879.50 69.00,879.50 69.08,879.50 69.12,893.00 69.20,893.00 69.40,893.00 69.60,893.00 69.80,893.00 70.00,893.00 70.20,893.00 70.40,893.00 70.60,893.00 70.68,893.00 70.72,1003.50 70.80,1003.04 71.00,1001.90 71.20,1000.76 71.40,999.61 71.60,999.61 71.80,999.61 72.00,999.61 72.20,999.61 72.40,1000.49 72.60,1001.36 72.80,1002.24 73.00,1003.12 73.20,1002.52 73.40,1001.92 73.60,1001.32 73.80,1000.72 74.00,1000.27 74.20,999.82 74.28,999.64 74.32,978.30 74.40,978.30 74.60,978.30 74.80,978.30 75.00,978.30 75.20,978.30 75.40,978.30 75.60,978.30 75.73,978.30 75.77,968.20 75.80,968.20 76.00,968.20 76.20,968.20 76.23,968.20 76.27,978.00 76.40,978.00 76.60,978.00 76.80,978.00 77.00,978.00 77.20,978.00 77.40,978.00 77.48,978.00 77.52,999.78 77.60,999.85 77.80,1000.04 78.00,999.98 78.20,999.93 78.40,999.87 78.60,999.82 78.80,999.80 79.00,999.78 79.20,999.76 79.40,999.74 79.60,1000.25 79.80,1000.76 80.00,1001.27 80.20,1001.81 80.40,1000.86 80.60,999.91 80.80,998.96 81.00,998.01 81.20,997.93 81.28,997.90 81.32,989.30 81.40,989.30 81.60,989.30 81.80,989.30 82.00,989.30 82.18,989.30 82.20,989.30 82.22,997.21 82.40,997.01 82.60,996.78 82.80,997.42 83.00,998.07 83.20,998.72 83.40,999.36 83.60,999.74 83.80,1000.12 84.00,1000.50 84.20,1000.88 84.40,1000.46 84.60,1000.04 84.80,999.61 85.00,999.19 85.20,999.19 85.40,999.19 85.60,999.19 85.80,999.19 86.00,998.98 86.20,998.78 86.40,998.57 86.60,998.36 86.80,998.88 87.00,999.39 87.20,999.90 87.40,1000.41 87.60,999.94 87.80,999.47 88.00,999.00 88.20,998.53 88.40,998.76 88.60,998.99 88.68,999.08 88.72,997.70 88.80,997.70 89.00,997.70 89.20,997.70 89.40,997.70 89.60,997.70 89.68,997.70 89.72,998.08 89.80,997.93 90.00,998.60 90.20,999.27 90.40,999.94 90.60,1000.60 90.80,1000.31 91.00,1000.02 91.20,999.73 91.40,999.44 91.60,999.54 91.80,999.64 92.00,999.73 92.20,999.83 92.40,999.62 92.60,999.42 92.80,999.21 93.00,999.00 93.20,999.87 93.40,1000.74 93.60,1001.60 93.80,1002.47 94.00,1001.85 94.20,1001.23 94.40,1000.60 94.60,999.98 94.80,999.69 95.00,999.40 95.20,999.09 95.40,998.79 95.60,999.19 95.80,999.59 96.00,999.99 96.20,1000.38 96.40,999.79 96.60,999.19 96.80,998.59 97.00,998.00 97.20,999.11 97.40,1000.23 97.60,1001.34 97.80,1002.45 97.98,1002.57 98.00,998.50 98.02,998.50 98.20,998.50 98.40,998.50 98.60,998.50 98.80,998.50 98.98,998.50 99.00,998.50 99.02,1002.77 99.20,1002.68 99.40,1002.60 99.60,1001.51 99.80,1000.42 100.00,999.33 100.20,998.25 100.40,999.18 100.60,1000.11 100.80,1001.04 101.00,1001.98 101.20,1001.85 101.40,1001.73 101.60,1001.61 101.80,1001.49 102.00,1001.69 102.20,1001.88 102.40,1002.08 102.60,1002.28 102.80,1001.37 103.00,1000.47 103.20,999.57 103.40,998.66 103.60,998.84 103.80,999.02 104.00,999.20 104.20,999.38 104.40,999.49 104.60,999.61 104.80,999.73 105.00,999.85 105.20,1000.22 105.40,1000.60 105.60,1000.97 105.80,1001.35 106.00,1001.92 106.20,1002.49 106.40,1003.06 106.60,1003.63 106.80,1002.45 107.00,1001.28 107.20,1000.10 107.40,998.92 107.60,999.37 107.80,999.81 108.00,1000.26 108.20,1000.71 108.40,1000.81 108.60,1000.90 108.80,1001.00 109.00,1001.10 109.20,1001.00 109.40,1000.90 109.60,1000.79 109.80,1000.69 110.00,1000.79 110.20,1000.88 110.40,1000.97 110.60,1001.07 110.80,1000.99 111.00,1000.90 111.20,1000.82 111.40,1000.74 111.60,1000.82 111.80,1000.90 112.00,1000.99 112.20,1001.07 112.40,1001.06 112.60,1001.05 112.80,1001.04 113.00,1001.03 113.20,1001.14 113.40,1001.25 113.60,1001.35 113.80,1001.46 114.00,1001.56 114.20,1001.66 114.40,1001.76 114.60,1001.86 114.80,1002.67 114.98,1003.39 115.00,998.30 115.02,998.30 115.20,998.30 115.40,998.30 115.60,998.30 115.78,998.30 115.80,998.30 115.82,1002.94 116.00,1002.03 116.20,1001.01 116.40,1001.40 116.60,1001.78 116.80,1002.16 117.00,1002.54 117.20,1002.51 117.40,1002.47 117.60,1002.44 117.80,1002.41 118.00,1002.90 118.20,1003.39 118.40,1003.88 118.60,1004.37 118.80,1004.14 119.00,1003.92 119.20,1003.69 119.40,1003.47 119.60,1003.46 119.80,1003.46 120.00,1003.45 120.20,1003.45 120.40,1003.81 120.60,1004.17 120.80,1004.53 121.00,1004.90 121.20,1005.11 121.40,1005.33 121.60,1005.55 121.80,1005.77 122.00,1005.37 122.20,1004.97 122.40,1004.57 122.60,1004.17 122.80,1004.32 123.00,1004.46 123.20,1004.61 123.40,1004.75 123.60,1004.42 123.80,1004.09 124.00,1003.76 124.20,1003.43 124.40,1003.87 124.60,1004.31 124.80,1004.75 125.00,1005.19 125.20,1005.27 125.40,1005.35 125.60,1005.43 125.80,1005.51 126.00,1004.84 126.20,1004.17 126.40,1003.50 126.60,1002.84 126.80,1002.71 127.00,1002.58 127.20,1002.45 127.40,1002.32 127.60,1002.82 127.80,1003.32 128.00,1003.81 128.20,1004.31 128.40,1004.84 128.60,1005.36 128.80,1005.88 129.00,1006.41 129.20,1005.54 129.40,1004.67 129.60,1003.79 129.80,1002.92 130.00,1002.83 130.20,1002.74 130.40,1002.64 130.60,1002.55 130.80,1003.44 131.00,1004.33 131.20,1005.22 131.40,1006.11 131.60,1006.39 131.80,1006.67 132.00,1006.95 132.20,1007.23 132.40,1006.44 132.60,1005.64 132.80,1004.85 133.00,1004.06 133.20,1004.86 133.40,1005.65 133.60,1006.45 133.80,1007.24 134.00,1006.30 134.20,1005.35 134.40,1004.41 134.60,1003.46 134.80,1004.33 135.00,1005.20 135.20,1006.02 135.40,1006.83 135.60,1006.60 135.80,1006.37 136.00,1006.13 136.20,1005.90 136.40,1006.04 136.60,1006.19 136.80,1006.34 137.00,1006.48 137.20,1005.73 137.40,1004.97 137.60,1004.22 137.80,1003.47 138.00,1004.22 138.03,1004.33 138.07,991.50 138.20,991.50 138.40,991.50 138.60,991.50 138.80,991.50 138.93,991.50 138.97,1005.11 139.00,1005.00 139.20,1004.26 139.40,1003.52 139.60,1003.66 139.80,1003.80 140.00,1003.94 140.20,1004.08 140.40,1003.80 140.60,1003.52 140.80,1003.24 141.00,1002.96 141.20,1002.72 141.40,1002.48 141.60,1002.24 141.80,1002.00 142.00,1002.01 142.20,1002.04 142.40,1002.08 142.60,1002.11 142.80,1002.66 143.00,1003.20 143.20,1003.75 143.40,1004.29 143.60,1004.01 143.80,1003.72 144.00,1003.43 144.20,1003.15 144.40,1003.94 144.60,1004.74 144.80,1005.54 145.00,1006.33 145.20,1006.16 145.40,1005.99 145.60,1005.82 145.80,1005.65 146.00,1004.97 146.20,1004.29 146.40,1003.62 146.60,1002.94 146.80,1003.78 147.00,1004.62 147.20,1005.46 147.40,1006.30 147.60,1005.50 147.80,1004.69 148.00,1003.89 148.20,1003.09 148.40,1003.28 148.60,1003.47 148.80,1003.66 149.00,1003.86 149.20,1003.63 149.40,1003.41 149.60,1003.19 149.80,1002.96 150.00,1003.70 150.20,1004.43 150.40,1005.17 150.60,1005.90 150.80,1005.54 151.00,1005.17 151.20,1004.80 151.40,1004.43 151.60,1004.64 151.80,1004.85 152.00,1005.05 152.20,1005.26 152.40,1005.55 152.60,1005.85 152.80,1006.14 153.00,1006.44 153.20,1005.63 153.40,1004.82 153.60,1004.01 153.80,1003.20 154.00,1003.53 154.20,1003.86 154.40,1004.19 154.60,1004.51 154.80,1004.78 155.00,1005.04 155.20,1005.30 155.40,1005.56 155.60,1005.89 155.80,1006.22 156.00,1006.55 156.20,1006.87 156.40,1006.76 156.60,1006.65 156.80,1006.54 157.00,1006.43 157.20,1005.95 157.40,1005.47 157.60,1005.00 157.80,1004.52 158.00,1005.16 158.20,1005.79 158.40,1006.43 158.60,1007.06 158.80,1007.04 159.00,1007.02 159.20,1007.01 159.40,1006.99 159.60,1005.83 159.80,1004.67 160.00,1003.52 160.20,1002.36 160.40,1002.57 160.60,1002.79 160.80,1003.00 161.00,1003.22 161.20,1003.02 161.40,1002.82 161.60,1002.62 161.80,1002.42 162.00,1002.93 162.20,1003.45 162.40,1003.96 162.60,1004.47 162.80,1004.29 163.00,1004.11 163.20,1003.94 163.40,1003.76 163.60,1003.72 163.80,1003.68 164.00,1003.64 164.20,1003.60 164.40,1003.75 164.60,1003.90 164.80,1004.06 165.00,1004.21 165.20,1004.44 165.40,1004.68 165.60,1004.91 165.80,1005.15 166.00,1004.49 166.20,1003.83 166.40,1003.17 166.60,1002.51 166.80,1003.14 167.00,1003.77 167.20,1004.41 167.40,1005.04 167.60,1005.26 167.80,1005.48 168.00,1005.69 168.20,1005.91 168.40,1005.80 168.60,1005.70 168.80,1005.59 169.00,1005.49 169.20,1005.91 169.40,1006.33 169.60,1006.76 169.80,1007.18 170.00,1006.13 170.20,1005.08 170.40,1004.03 170.60,1002.98 170.80,1003.45 171.00,1003.92 171.20,1004.38 171.40,1004.85 171.60,1005.21 171.80,1005.56 172.00,1005.92 172.20,1006.27 172.40,1005.94 172.60,1005.62 172.80,1005.29 173.00,1004.96 173.20,1004.49 173.40,1004.02 173.60,1003.55 173.80,1003.08 174.00,1003.13 174.20,1003.18 174.40,1003.23 174.60,1003.28 174.80,1003.86 175.00,1004.44 175.20,1005.02 175.40,1005.61 175.60,1004.90 175.80,1004.19 176.00,1003.48 176.20,1002.77 176.40,1002.86 176.60,1002.95 176.80,1003.04 177.00,1003.13 177.20,1003.18 177.40,1003.23 177.60,1003.27 177.80,1003.32 178.00,1004.16 178.20,1004.99 178.40,1005.83 178.60,1006.66 178.80,1006.76 179.00,1006.86 179.20,1006.96 179.40,1007.06 179.60,1007.21 179.80,1007.35 180.00,1007.49 180.20,1007.64 180.40,1006.52 180.60,1005.40 180.80,1004.28 181.00,1003.15 181.20,1003.43 181.40,1003.70 181.60,1003.97 181.80,1004.24 182.00,1004.23 182.20,1004.23 182.40,1004.23 182.60,1004.22 182.80,1003.87 183.00,1003.52 183.20,1003.16 183.40,1002.81 183.60,1002.80 183.80,1002.79 184.00,1002.77 184.20,1002.76 184.40,1003.86 184.60,1004.95 184.80,1006.05 185.00,1007.14 185.20,1006.46 185.40,1005.77 185.60,1005.08 185.80,1004.40 186.00,1004.96 186.20,1005.51 186.40,1006.07 186.60,1006.63 186.80,1005.79 187.00,1004.96 187.20,1004.12 187.40,1003.28 187.60,1003.54 187.80,1003.80 188.00,1004.06 188.20,1004.32 188.40,1004.86 188.60,1005.40 188.80,1005.94 189.00,1006.48 189.20,1006.41 189.40,1006.34 189.60,1006.27 189.80,1006.20 190.00,1005.46 190.20,1004.72 190.40,1003.98 190.60,1003.24 190.80,1003.21 191.00,1003.17 191.20,1003.14 191.40,1003.10 191.60,1004.22 191.80,1005.33 192.00,1006.45 192.20,1007.56 192.40,1006.66 192.60,1005.75 192.80,1004.85 193.00,1003.94 193.20,1004.22 193.40,1004.50 193.60,1004.78 193.80,1005.06 194.00,1005.56 194.20,1006.06 194.40,1006.55 194.60,1007.05 194.80,1006.11 195.00,1005.17 195.20,1004.22 195.40,1003.28 195.60,1003.73 195.80,1004.18 196.00,1004.63 196.20,1005.08 196.40,1004.90 196.60,1004.72 196.80,1004.53 197.00,1004.35 197.20,1004.65 197.40,1004.95 197.60,1005.26 197.80,1005.56 198.00,1005.10 198.20,1004.64 198.40,1004.18 198.60,1003.72 198.80,1004.64 199.00,1005.57 199.20,1006.49 199.40,1007.42 199.60,1007.16 199.80,1006.91 200.00,1006.65 200.20,1006.39 200.40,1006.56 200.60,1006.72 200.80,1006.89 201.00,1007.06 201.20,1006.20 201.40,1005.33 201.60,1004.47 201.80,1003.61 202.00,1004.15 202.20,1004.69 202.40,1005.23 202.60,1005.77 202.80,1005.65 203.00,1005.54 203.20,1005.42 203.40,1005.30 203.60,1005.53 203.80,1005.76 204.00,1005.99 204.20,1006.22 204.40,1005.56 204.60,1004.91 204.80,1004.25 205.00,1003.59 205.20,1003.81 205.40,1004.02 205.60,1004.24 205.80,1004.45 206.00,1005.16 206.20,1005.87 206.40,1006.58 206.60,1007.29 206.80,1006.32 207.00,1005.34 207.20,1004.36 207.40,1003.38 207.60,1004.04 207.80,1004.70 208.00,1005.36 208.20,1006.01 208.40,1006.55 208.60,1007.09 208.80,1007.62 209.00,1008.16 209.20,1007.65 209.40,1007.14 209.60,1006.64 209.80,1006.13 210.00,1006.22 210.20,1006.32 210.40,1006.41 210.60,1006.51 210.80,1006.66 211.00,1006.81 211.20,1006.96 211.40,1007.11 211.60,1006.96 211.80,1006.80 212.00,1006.65 212.20,1006.49 212.40,1006.70 212.60,1006.91 212.80,1007.11 213.00,1007.32 213.20,1007.45 213.40,1007.57 213.60,1007.69 213.80,1007.82 214.00,1006.69 214.20,1005.57 214.40,1004.45 214.60,1003.32 214.68,1003.57 214.72,998.80 214.80,998.80 215.00,998.80 215.20,998.80 215.40,998.80 215.60,998.80 215.80,998.80 216.00,998.80 216.20,998.80 216.28,998.80 216.32,1007.38 216.40,1007.12 216.60,1006.46 216.80,1005.80 217.00,1005.14 217.20,1005.16 217.40,1005.18 217.60,1005.20 217.80,1005.22 218.00,1004.98 218.20,1004.74 218.40,1004.49 218.60,1004.25 218.80,1004.75 219.00,1005.26 219.20,1005.77 219.40,1006.27 219.60,1005.92 219.80,1005.58 220.00,1005.23 220.20,1004.88 220.40,1005.68 220.60,1006.47 220.80,1007.27 221.00,1008.06 221.20,1007.19 221.40,1006.31 221.60,1005.44 221.80,1004.56 222.00,1004.80 222.20,1005.03 222.40,1005.27 222.60,1005.50 222.80,1005.07 223.00,1004.65 223.20,1004.22 223.40,1003.80 223.60,1004.05 223.80,1004.31 224.00,1004.57 224.20,1004.83 224.40,1005.35 224.60,1005.86 224.80,1006.38 225.00,1006.90 225.20,1006.56 225.40,1006.22 225.60,1005.88 225.80,1005.54 226.00,1004.99 226.20,1004.44 226.40,1003.88 226.60,1003.33 226.80,1003.66 227.00,1003.98 227.20,1004.31 227.40,1004.64 227.60,1004.95 227.80,1005.26 228.00,1005.57 228.20,1005.88 228.40,1005.27 228.60,1004.67 228.80,1004.07 229.00,1003.47 229.20,1003.48 229.40,1003.49 229.60,1003.51 229.80,1003.52 230.00,1003.88 230.20,1004.23 230.40,1004.59 230.60,1004.95 230.80,1004.77 231.00,1004.58 231.20,1004.39 231.40,1004.20 231.60,1004.70 231.80,1005.21 232.00,1005.71 232.20,1006.21 232.40,1005.50 232.60,1004.80 232.80,1004.09 233.00,1003.39 233.20,1003.42 233.40,1003.45 233.60,1003.48 233.80,1003.51 234.00,1004.28 234.20,1005.06 234.40,1005.84 234.60,1006.62 234.80,1006.22 235.00,1005.82 235.20,1005.43 235.40,1005.03 235.60,1005.34 235.80,1005.65 236.00,1005.96 236.20,1006.27 236.40,1005.61 236.60,1004.96 236.80,1004.31 237.00,1003.65 237.20,1004.36 237.40,1005.07 237.60,1005.78 237.80,1006.50 238.00,1006.44 238.20,1006.39 238.40,1006.33 238.60,1006.28 238.80,1005.60 239.00,1004.92 239.20,1004.24 239.40,1003.56 239.60,1003.75 239.80,1003.94 240.00,1004.13 240.20,1004.32 240.40,1005.02 240.60,1005.72 240.80,1006.42 241.00,1007.11 241.20,1007.26 241.40,1007.40 241.60,1007.54 241.80,1007.68 242.00,1007.01 242.20,1006.34 242.40,1005.68 242.60,1005.01 242.80,1005.18 243.00,1005.36 243.20,1005.53 243.40,1005.71 243.60,1005.95 243.80,1006.19 244.00,1006.43 244.20,1006.67 244.40,1006.74 244.60,1006.81 244.80,1006.88 245.00,1006.96 245.20,1006.78 245.40,1006.61 245.60,1006.44 245.80,1006.26 246.00,1006.66 246.20,1007.05 246.40,1007.45 246.60,1007.84 246.80,1007.42 247.00,1007.00 247.20,1006.58 247.40,1006.16 247.60,1006.37 247.80,1006.57 248.00,1006.77 248.20,1006.98 248.40,1007.03 248.60,1007.08 248.80,1007.14 249.00,1007.19 249.20,1006.92 249.40,1006.64 249.60,1006.37 249.80,1006.09 250.00,1005.82 250.20,1005.54 250.40,1005.26 250.60,1004.98 250.80,1005.06 251.00,1005.13 251.20,1005.21 251.40,1005.28 251.60,1005.10 251.80,1004.91 252.00,1004.72 252.20,1004.53 252.40,1005.29 252.60,1006.04 252.80,1006.79 253.00,1007.54 253.20,1007.15 253.40,1006.75 253.60,1006.35 253.80,1005.96 254.00,1005.74 254.20,1005.52 254.40,1005.30 254.60,1005.08 254.80,1005.24 255.00,1005.39 255.20,1005.55 255.40,1005.71" fill="none" stroke="#141414" stroke-width="1.75" stroke-linejoin="miter" stroke-miterlimit="2"/>
<polyline points="333.00,1011.60 333.13,1009.27 333.17,1000.48 333.20,1000.48 333.40,1000.48 333.60,1000.48 333.61,1000.48 333.64,980.00 333.80,980.00 333.95,980.00 334.00,1000.48 334.00,1000.48 334.20,1000.48 334.40,1000.48 334.43,1000.48 334.47,1009.64 334.60,1006.60 334.80,1004.03 335.00,1007.79 335.20,1007.48 335.40,1003.09 335.60,1006.02 335.80,1011.38 336.00,1006.46 336.20,1004.01 336.40,1009.01 336.60,1008.76 336.80,1003.25 337.00,1005.98 337.20,1011.45 337.40,1009.02 337.60,1007.81 337.80,1010.22 338.00,1009.28 338.20,1004.97 338.40,1006.60 338.53,1008.95 338.57,1007.75 338.60,1007.75 338.80,1006.37 339.00,1004.67 339.00,1004.79 339.05,1000.80 339.20,1000.80 339.36,1000.80 339.39,1007.75 339.40,1007.75 339.60,1002.92 339.80,1004.92 339.83,1005.62 339.87,1006.55 340.00,1009.58 340.20,1007.63 340.40,1006.66 340.60,1008.59 340.80,1008.14 341.00,1005.31 341.20,1007.73 341.40,1011.89 341.60,1007.06 341.80,1004.51 342.00,1008.79 342.20,1008.36 342.40,1003.20 342.43,1002.43 342.47,1002.49 342.60,1004.50 342.80,1004.50 342.90,1004.50 342.94,991.50 343.00,991.50 343.20,991.50 343.25,991.50 343.30,1004.50 343.40,1004.50 343.60,1004.50 343.73,1004.32 343.77,1003.31 343.80,1002.56 344.00,1004.64 344.20,1009.09 344.40,1005.45 344.60,1003.52 344.80,1006.70 345.00,1006.68 345.20,1003.45 345.40,1005.95 345.60,1010.35 345.80,1007.79 346.00,1006.64 346.20,1009.67 346.23,1010.13 346.27,1007.20 346.40,1007.20 346.60,1003.74 346.70,1003.82 346.75,999.20 346.80,999.20 347.00,999.20 347.06,999.20 347.10,1007.20 347.20,1007.20 347.40,1005.51 347.53,1006.68 347.57,1007.04 347.60,1007.31 347.80,1007.82 348.00,1007.07 348.20,1008.94 348.40,1011.70 348.60,1006.25 348.80,1003.37 349.00,1008.14 349.03,1008.86 349.07,1008.28 349.20,1008.28 349.40,1004.35 349.50,1004.66 349.55,1002.30 349.60,1002.30 349.80,1002.30 349.86,1002.30 349.89,1008.28 350.00,1006.18 350.20,1003.15 350.33,1006.38 350.37,1007.38 350.40,1008.13 350.60,1008.68 350.80,1004.80 351.00,1005.89 351.20,1008.63 351.40,1007.08 351.60,1006.36 351.80,1008.12 352.00,1006.97 352.20,1002.89 352.40,1006.23 352.60,1012.04 352.80,1005.07 353.00,1001.14 353.20,1006.30 353.40,1006.97 353.60,1003.18 353.80,1003.83 354.00,1005.98 354.20,1002.75 354.40,1001.94 354.60,1008.40 354.80,1007.93 355.00,1000.54 355.20,1003.13 355.40,1009.05 355.60,1003.30 355.80,1000.56 356.00,1006.85 356.20,1006.63 356.40,999.88 356.60,1004.21 356.80,1012.24 357.00,1002.66 357.03,1001.22 357.07,997.25 357.20,997.25 357.40,997.25 357.50,997.25 357.55,970.80 357.60,970.80 357.80,970.80 357.86,970.80 357.89,997.25 358.00,997.25 358.20,997.25 358.33,997.25 358.37,1005.66 358.40,1005.24 358.60,1003.70 358.80,1005.92 359.00,1003.88 359.20,997.56 359.40,999.72 359.60,1004.71 359.80,999.47 360.00,997.08 360.20,1003.24 360.40,1002.33 360.60,994.35 360.80,999.45 361.00,1008.90 361.20,1003.22 361.40,1000.17 361.60,1005.00 361.80,1004.59 362.00,998.92 362.20,1003.79 362.40,1012.17 362.43,1010.69 362.47,1000.20 362.60,1000.20 362.80,996.18 362.90,998.79 362.94,979.20 363.00,979.20 363.20,979.20 363.25,979.20 363.30,999.81 363.40,997.75 363.60,1000.20 363.73,1000.20 363.77,1007.64 363.80,1008.66 364.00,1004.72 364.20,1002.57 364.40,1005.83 364.60,1004.50 364.80,998.58 365.00,1003.57 365.20,1012.19 365.40,1002.39 365.53,996.02 365.57,995.93 365.60,997.27 365.80,998.59 366.00,998.59 366.00,998.59 366.05,974.60 366.20,974.60 366.36,974.60 366.39,998.59 366.40,998.59 366.60,998.59 366.80,998.59 366.83,998.59 366.87,998.76 367.00,998.07 367.20,1004.99 367.40,1004.42 367.60,996.39 367.80,997.88 367.83,998.58 367.87,999.52 368.00,1002.55 368.20,998.57 368.31,996.48 368.35,994.60 368.40,994.60 368.60,994.60 368.65,994.60 368.69,1005.59 368.80,1005.59 369.00,996.77 369.13,998.16 369.17,1000.04 369.20,1001.44 369.40,1010.81 369.60,1002.35 369.80,998.30 370.00,1007.51 370.20,1007.96 370.40,999.65 370.60,1002.57 370.80,1009.23 371.00,1002.06 371.20,998.67 371.40,1006.65 371.60,1008.25 371.80,1003.46 372.00,1005.67 372.13,1008.63 372.17,998.30 372.20,998.30 372.40,998.30 372.60,998.30 372.61,998.30 372.64,973.80 372.80,973.80 372.95,973.80 373.00,998.30 373.00,998.30 373.20,998.30 373.40,998.30 373.43,998.30 373.47,1008.91 373.60,1011.90 373.80,1001.99 374.00,997.02 374.20,1006.83 374.40,1008.85 374.60,1003.08 374.80,1004.92 375.00,1009.29 375.20,1001.44 375.40,997.64 375.53,1003.08 375.57,1002.37 375.60,1002.37 375.80,1002.37 376.00,1002.37 376.00,1002.37 376.05,985.40 376.20,985.40 376.36,985.40 376.39,1002.37 376.40,1002.37 376.60,1002.37 376.80,1002.37 376.83,1002.37 376.87,1004.03 377.00,1005.81 377.20,1004.66 377.40,999.62 377.60,1002.15 377.80,1007.19 377.83,1005.79 377.87,997.25 378.00,997.25 378.20,993.26 378.31,997.25 378.35,970.80 378.40,970.80 378.60,970.80 378.65,970.80 378.69,997.25 378.80,997.25 379.00,997.25 379.13,997.25 379.17,1007.65 379.20,1008.62 379.40,1001.42 379.60,998.12 379.80,1006.48 380.00,1008.16 380.20,1003.14 380.40,1005.22 380.60,1009.67 380.80,1003.52 381.00,1000.40 381.20,1006.38 381.40,1005.49 381.60,997.74 381.80,1002.25 382.00,1010.85 382.20,1005.97 382.40,1003.46 382.60,1008.06 382.80,1005.93 382.83,1004.60 382.87,887.50 383.00,887.50 383.20,887.50 383.33,887.50 383.37,1005.50 383.40,1006.49 383.53,1004.93 383.57,999.14 383.60,999.14 383.80,999.14 384.00,999.14 384.00,999.14 384.05,976.20 384.20,976.20 384.36,976.20 384.39,999.14 384.40,999.14 384.60,999.14 384.80,999.14 384.83,999.14 384.87,1004.81 385.00,1002.13 385.20,999.66 385.40,1002.15 385.60,1001.48 385.80,997.67 386.00,998.86 386.20,1001.71 386.40,999.14 386.53,997.46 386.57,997.75 386.60,998.55 386.80,1002.37 387.00,1002.37 387.00,1002.37 387.05,985.40 387.20,985.40 387.36,985.40 387.39,1000.05 387.40,1000.20 387.60,1002.37 387.80,1000.46 387.83,999.60 387.87,998.45 388.00,997.95 388.20,1005.11 388.40,1005.14 388.60,998.04 388.80,1002.53 389.00,1010.89 389.20,1003.78 389.40,999.69 389.60,1004.71 389.80,1004.44 390.00,998.88 390.13,1000.35 390.17,1001.78 390.20,1002.64 390.40,1002.64 390.60,1002.64 390.61,1002.64 390.64,986.20 390.80,986.20 390.95,986.20 391.00,1002.64 391.00,1002.64 391.20,1002.64 391.40,999.15 391.43,997.95 391.47,997.73 391.60,1001.56 391.63,1002.45 391.67,1003.63 391.80,1006.14 392.00,1000.25 392.11,996.46 392.14,995.02 392.20,996.20 392.40,996.20 392.45,996.20 392.50,1006.14 392.60,1003.80 392.80,997.55 392.93,999.29 392.97,1000.94 393.00,1002.18 393.20,1010.43 393.40,1005.61 393.60,1002.75 393.80,1005.75 394.00,1005.48 394.20,1001.94 394.40,1005.32 394.60,1011.00 394.80,1004.80 395.00,1001.06 395.20,1004.65 395.40,1005.34 395.53,1003.91 395.57,1003.47 395.60,1003.14 395.80,1004.60 396.00,1007.27 396.00,1007.17 396.05,1003.00 396.20,1003.00 396.36,1000.66 396.39,1001.61 396.40,1001.73 396.60,1006.48 396.80,1005.99 396.83,1005.13 396.87,1003.99 397.00,1000.26 397.20,1003.58 397.40,1009.91 397.60,1003.61 397.80,1000.12 398.00,1005.10 398.20,1006.38 398.40,1003.96 398.60,1006.42 398.80,1010.51 399.00,1004.32 399.20,1001.09 399.40,1006.75 399.60,1008.33 399.80,1005.82 400.00,1006.65 400.20,1008.59 400.40,1006.51 400.60,1005.32 400.80,1006.77 401.00,1005.50 401.20,1001.50 401.33,1002.85 401.37,1004.02 401.40,1004.90 401.60,1005.87 401.80,1005.87 401.81,1005.87 401.85,995.40 402.00,995.40 402.15,995.40 402.19,1005.87 402.20,1005.87 402.40,1005.87 402.60,1004.12 402.63,1003.69 402.67,1003.77 402.80,1006.12 403.00,1009.73 403.20,1004.50 403.40,1001.86 403.60,1007.01 403.80,1006.30 404.00,999.73 404.20,1002.87 404.40,1009.24 404.60,1005.96 404.80,1004.30 405.00,1007.51 405.20,1007.56 405.40,1004.44 405.60,1007.08 405.80,1011.63 406.00,1007.35 406.20,1005.09 406.40,1008.91 406.53,1010.51 406.57,1007.20 406.60,1007.20 406.80,1007.20 407.00,1007.20 407.00,1007.20 407.05,999.20 407.20,999.20 407.36,999.20 407.39,1005.47 407.40,1005.33 407.60,1002.39 407.80,1006.88 407.83,1007.20 407.87,1008.45 408.00,1007.88 408.20,1005.40 408.40,1007.50 408.60,1011.13 408.80,1009.00 409.00,1007.96 409.20,1010.20 409.40,1010.05 409.60,1007.49 409.80,1008.89 410.00,1011.60 410.20,1008.05 410.40,1006.23 410.60,1009.62 410.80,1009.82 411.00,1006.85 411.20,1008.41 411.40,1011.46 411.60,1009.69 411.80,1008.81 412.00,1010.60 412.20,1010.70 412.40,1009.13 412.60,1009.73 412.80,1011.06 413.00,1009.67 413.20,1009.02 413.40,1010.59 413.60,1009.89 413.80,1006.93 414.00,1008.02 414.20,1010.47 414.40,1007.65 414.60,1006.27 414.80,1009.20 415.00,1009.37 415.20,1006.78 415.40,1007.97 415.60,1010.43 415.80,1007.99 416.00,1006.74 416.20,1009.06 416.33,1009.96 416.37,1008.17 416.40,1008.17 416.60,1007.64 416.80,1008.17 416.81,1008.17 416.85,1002.00 417.00,1002.00 417.15,1002.00 417.19,1008.17 417.20,1008.17 417.40,1008.17 417.60,1007.61 417.63,1007.49 417.67,1007.33 417.80,1007.06 418.00,1006.75 418.20,1008.49 418.40,1010.92 418.60,1008.93 418.80,1007.53 419.00,1007.86 419.20,1007.94 419.40,1007.77 419.60,1008.95 419.80,1010.59 420.00,1008.93 420.20,1008.21 420.40,1010.31 420.60,1010.39 420.80,1008.45 421.00,1009.15 421.20,1010.74 421.40,1009.08 421.60,1008.25 421.80,1009.88 422.00,1009.71 422.20,1007.74 422.40,1008.91 422.60,1011.13 422.80,1008.90 423.00,1007.93 423.20,1010.77 423.40,1011.24 423.60,1009.34 423.80,1009.53 424.00,1010.41 424.20,1009.82 424.40,1009.54 424.60,1010.22 424.80,1009.70 425.00,1007.97 425.20,1008.44 425.40,1009.64 425.60,1008.06 425.80,1007.38 426.00,1009.44 426.20,1008.71 426.40,1005.18 426.60,1007.69 426.80,1012.22 427.00,1009.09 427.20,1007.37 427.40,1009.89 427.60,1010.16 427.80,1008.17 428.00,1009.56 428.20,1012.07 428.40,1009.09 428.60,1007.51 428.80,1010.10 429.00,1010.17 429.20,1007.71 429.40,1008.72 429.60,1010.88 429.80,1008.41 430.00,1007.27 430.20,1010.09 430.40,1010.31 430.60,1007.93 430.80,1009.34 431.00,1012.03 431.03,1011.79 431.07,1007.62 431.20,1007.62 431.40,1007.62 431.50,1007.62 431.55,1000.40 431.60,1000.40 431.80,1000.40 431.86,1000.40 431.89,1007.62 432.00,1007.25 432.20,1007.62 432.33,1007.62 432.37,1011.33 432.40,1011.76 432.60,1010.37 432.80,1009.61 433.00,1010.75 433.20,1010.43 433.40,1008.65 433.60,1009.47 433.80,1011.15 434.00,1009.19 434.20,1008.25 434.40,1010.38 434.60,1010.69 434.80,1009.18 435.00,1010.29 435.20,1012.26 435.40,1009.73 435.60,1008.33 435.80,1010.34 436.00,1010.16 436.20,1007.81 436.40,1008.57 436.58,1010.18 436.60,996.00 436.62,996.00 436.80,996.00 437.00,996.00 437.20,996.00 437.23,996.00 437.27,960.00 437.40,960.00 437.60,960.00 437.73,960.00 437.77,996.00 437.80,996.00 438.00,996.00 438.20,996.00 438.38,996.00 438.40,996.00 438.42,1006.92 438.60,1009.97 438.80,1010.20 439.00,1007.27 439.20,1008.59 439.40,1011.33 439.60,1010.13 439.80,1009.59 440.00,1011.06 440.20,1010.81 440.40,1008.85 440.60,1007.73 440.80,1006.90 441.00,1006.88 441.20,1007.60 441.40,1010.56 441.60,1010.86 441.80,1008.52 442.00,1008.06 442.20,1008.23 442.40,1007.80 442.60,1008.04 442.80,1010.28 443.00,1010.72 443.20,1009.37 443.40,1010.38 443.60,1012.19 443.80,1010.64 444.00,1009.87 444.20,1011.43 444.40,1010.35 444.60,1006.63 444.80,1007.69 445.00,1010.35 445.13,1008.93 445.17,1007.62 445.20,1007.62 445.40,1007.19 445.60,1007.62 445.61,1007.62 445.64,1000.40 445.80,1000.40 445.95,1000.40 446.00,1007.14 446.00,1007.08 446.20,1007.62 446.40,1007.62 446.43,1007.62 446.47,1010.29 446.60,1008.49 446.80,1007.16 447.00,1010.12 447.20,1010.71 447.40,1008.92 447.60,1009.84 447.80,1011.65 448.00,1007.17 448.20,1004.58 448.40,1007.69 448.60,1008.76 448.80,1007.79 449.00,1009.54 449.20,1012.22 449.40,1010.33 449.60,1008.78 449.80,1008.19 450.00,1007.56 450.20,1006.89 450.40,1008.88 450.60,1011.76 450.80,1009.79 451.00,1008.59 451.20,1009.69 451.40,1008.10 451.60,1003.82 451.80,1006.26 452.00,1010.92 452.20,1010.11 452.40,1009.80 452.60,1011.04 452.80,1010.41 453.00,1007.94 453.20,1007.39 453.40,1007.48 453.60,1008.18 453.80,1009.04 454.00,1010.43 454.20,1009.79 454.40,1007.12 454.60,1008.77 454.80,1011.85 455.00,1008.99 455.20,1006.81 455.40,1006.68 455.60,1007.38 455.80,1008.91 456.00,1010.39 456.20,1011.86 456.40,1009.73 456.60,1008.46 456.80,1009.75 457.00,1009.92 457.20,1008.95 457.40,1009.45 457.60,1010.43 457.80,1009.00 458.00,1008.49 458.20,1010.73 458.40,1010.90 458.60,1009.00 458.80,1009.27 459.00,1010.27 459.20,1008.87 459.40,1008.25 459.60,1009.93 459.80,1009.85 460.00,1008.03 460.20,1007.68 460.40,1007.82 460.60,1008.72 460.80,1009.69 461.00,1010.91 461.20,1010.33 461.40,1007.96 461.60,1008.94 461.80,1011.03 462.00,1009.75 462.20,1009.17 462.40,1010.68 462.60,1010.47 462.80,1008.54 463.00,1009.65 463.20,1011.76 463.40,1009.37 463.60,1008.16 463.80,1010.51 464.00,1011.00 464.20,1009.66 464.40,1010.14 464.60,1011.23 464.80,1008.82 465.00,1007.57 465.20,1009.79 465.40,1008.41 465.60,1003.41 465.80,1005.64 466.00,1010.27 466.20,1009.74 466.40,1009.56 466.60,1010.41 466.80,1009.83 467.00,1007.82 467.20,1008.69 467.40,1010.51 467.60,1008.57 467.80,1007.22 468.00,1007.68 468.20,1007.93 468.40,1007.98 468.60,1009.14 468.80,1010.68 469.00,1009.75 469.20,1009.47 469.40,1011.17 469.60,1011.20 469.80,1009.57 470.00,1009.63 470.20,1010.26 470.40,1008.52 470.60,1007.94 470.80,1010.80 471.00,1011.15 471.20,1008.98 471.40,1010.01 471.60,1012.11 471.80,1009.35 472.00,1007.78 472.20,1009.73 472.40,1009.98 472.60,1008.54 472.80,1009.51 473.00,1011.28 473.20,1008.94 473.40,1007.79 473.60,1010.23 473.80,1010.09 474.00,1007.35 474.20,1008.26 474.40,1010.40 474.60,1009.34 474.80,1008.94 475.00,1010.53 475.20,1010.33 475.40,1008.33 475.60,1009.32 475.80,1011.31 476.00,1010.26 476.20,1009.68 476.40,1010.47 476.60,1010.45 476.80,1009.60 477.00,1010.50 477.20,1011.98 477.40,1009.47 477.60,1008.19 477.80,1010.61 478.00,1010.47 478.20,1007.77 478.40,1008.58 478.60,1010.57 478.80,1009.18 479.00,1008.65" fill="none" stroke="#1c1c1c" stroke-width="1.3" stroke-linejoin="miter" stroke-miterlimit="2"/>
<rect x="377.8" y="176" width="4.399999999999977" height="50.5" fill="#fff" fill-opacity="0.45"/>
<rect x="383.0" y="192.5" width="4.399999999999977" height="34.0" fill="#fff" fill-opacity="0.4"/>
<rect x="427.8" y="202" width="2.3999999999999773" height="24.5" fill="#fff" fill-opacity="0.4"/>
<rect x="433.6" y="203.5" width="1.599999999999966" height="23.0" fill="#fff" fill-opacity="0.35"/>
<rect x="382.2" y="886" width="1.8000000000000114" height="86" fill="#fff" fill-opacity="0.4"/>
<rect x="436.7" y="959" width="1.6000000000000227" height="35" fill="#fff" fill-opacity="0.35"/>
<rect x="387.9" y="601.5" width="1.8000000000000114" height="103.5" fill="#fff" fill-opacity="0.3"/>
<rect x="381.4" y="388" width="2.8000000000000114" height="82.5" fill="#fff" fill-opacity="0.45"/>
<rect x="385.0" y="413" width="4.199999999999989" height="57.5" fill="#fff" fill-opacity="0.4"/>
</svg>
</body></html>
